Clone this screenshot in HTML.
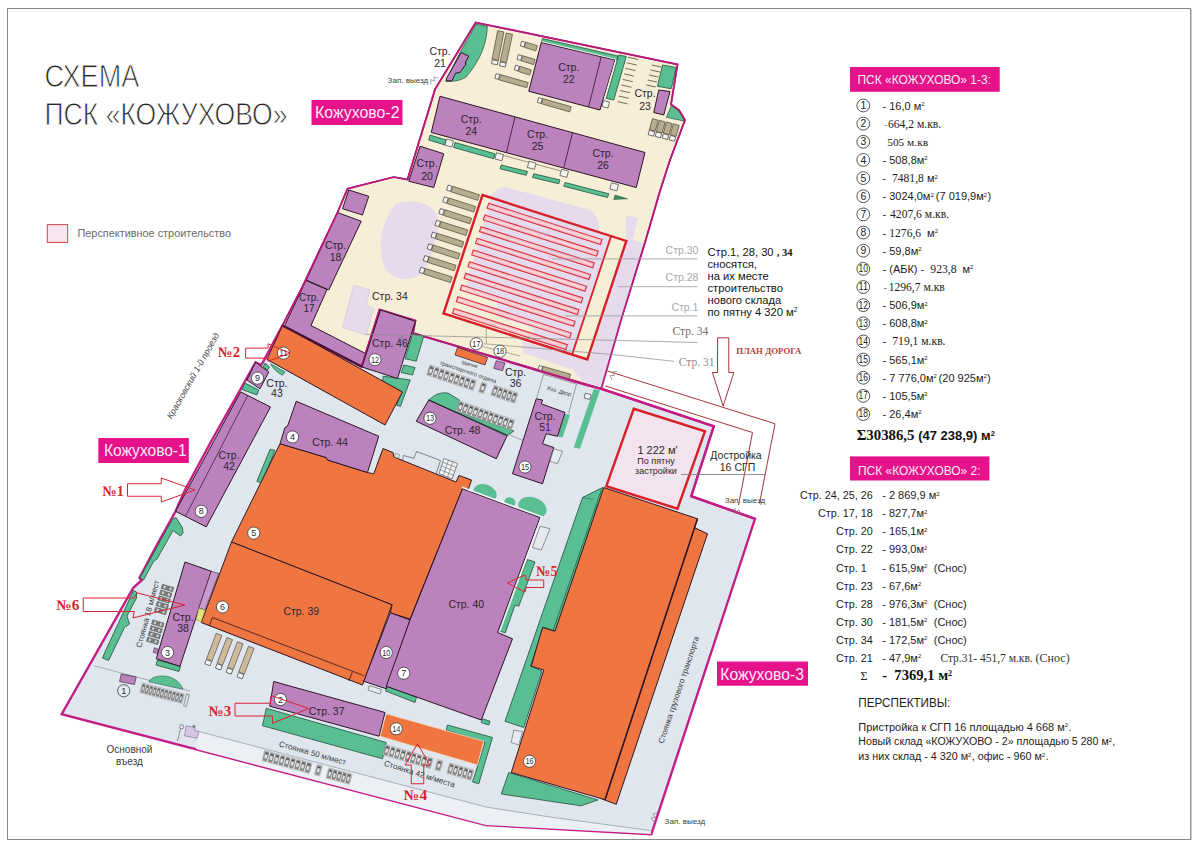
<!DOCTYPE html>
<html lang="ru"><head><meta charset="utf-8"><title>Схема ПСК «Кожухово»</title>
<style>
html,body{margin:0;padding:0;background:#fff;}
body{width:1200px;height:849px;overflow:hidden;font-family:"Liberation Sans",sans-serif;}
svg{display:block;}
</style></head><body>
<svg width="1200" height="849" viewBox="0 0 1200 849">
<rect x="0" y="0" width="1200" height="849" fill="#ffffff"/>
<rect x="7.5" y="8.5" width="1183" height="831" fill="none" stroke="#8a8a8a" stroke-width="1"/>
<line x1="1191.3" y1="9" x2="1191.3" y2="840" stroke="#bdbdbd" stroke-width="1"/>
<polygon points="282.50,325.40 361.50,366.50 379.50,309.50 415.50,320.70 413.00,333.00 582.50,383.75 601.25,388.75 713.75,426.25 691.25,496.25 755.00,518.75 716.25,637.00 651.30,834.30 486.00,825.00 61.70,714.20 133.00,588.20 134.50,586.50 141.50,580.50 139.50,577.80 156.25,546.00 175.60,511.25 185.00,490.00 211.90,440.00 238.40,393.00 255.60,362.30 261.00,365.00 262.50,363.00" fill="#dfe6ee" stroke="#c41d86" stroke-width="2.4" stroke-linejoin="miter"/>
<polygon points="198.75,731.50 486.00,807.00 550.00,817.00 650.00,830.50 651.30,834.00 486.00,825.00 196.00,749.00" fill="#eceff3" stroke="none" stroke-width="1" />
<polyline points="93.75,665.75 190.00,691.00" fill="none" stroke="#8d96a0" stroke-width="0.7" />
<polyline points="198.75,731.50 486.00,807.00 550.00,817.00 650.00,830.50" fill="none" stroke="#8d96a0" stroke-width="0.7" />
<polygon points="475.75,22.50 677.50,64.50 671.00,104.50 679.00,110.00 685.00,120.00 670.00,160.00 660.00,191.00 645.00,242.50 621.00,320.00 601.25,388.75 413.00,333.00 415.50,320.70 379.50,309.50 361.50,366.50 282.50,325.40 295.60,300.00 300.80,290.00 337.50,212.50 347.50,188.75 393.75,177.00 407.50,179.50 435.00,89.40" fill="#f6eed7" stroke="#b61a7a" stroke-width="1.7" stroke-linejoin="miter"/>
<path d="M476.3,24.2 L487.3,26.3 C487,42 481,60 466,77 C460,81 452,81.8 445.5,81.3 L460,52.5 Z" fill="#59bf92" stroke="#234f3d" stroke-width="0.7"/>
<polygon points="446.25,78.75 461.25,52.50 468.75,56.25 465.00,63.10 466.25,63.75 460.00,72.50 455.60,73.10 451.90,80.80 446.80,80.80" fill="#bb82bd" stroke="#2e1626" stroke-width="1.0" />
<polygon points="542.50,38.50 618.00,56.00 617.00,60.00 541.50,42.50" fill="#59bf92" stroke="#234f3d" stroke-width="0.8" />
<polygon points="618.75,55.00 626.25,56.50 613.75,100.00 606.25,98.50" fill="#59bf92" stroke="#234f3d" stroke-width="0.8" />
<polygon points="541.25,42.50 615.00,60.00 600.00,110.00 528.75,91.25" fill="#bb82bd" stroke="#2e1626" stroke-width="1.0" />
<line x1="601.20" y1="57.00" x2="588.50" y2="107.00" stroke="#2e1626" stroke-width="0.8"/>
<polyline points="541.50,41.60 615.90,59.30 604.30,99.00" fill="none" stroke="#f6f1e4" stroke-width="1.0" />
<polygon points="603.50,100.50 609.50,102.00 608.00,108.00 602.00,106.50" fill="#f4f4f0" stroke="#555" stroke-width="0.8" />
<line x1="628.10" y1="57.20" x2="638.10" y2="59.50" stroke="#6b5a44" stroke-width="0.9"/>
<line x1="626.77" y1="62.75" x2="636.77" y2="65.05" stroke="#6b5a44" stroke-width="0.9"/>
<line x1="625.44" y1="68.30" x2="635.44" y2="70.60" stroke="#6b5a44" stroke-width="0.9"/>
<line x1="624.11" y1="73.85" x2="634.11" y2="76.15" stroke="#6b5a44" stroke-width="0.9"/>
<line x1="622.78" y1="79.40" x2="632.78" y2="81.70" stroke="#6b5a44" stroke-width="0.9"/>
<line x1="621.45" y1="84.95" x2="631.45" y2="87.25" stroke="#6b5a44" stroke-width="0.9"/>
<line x1="620.12" y1="90.50" x2="630.12" y2="92.80" stroke="#6b5a44" stroke-width="0.9"/>
<line x1="618.79" y1="96.05" x2="628.79" y2="98.35" stroke="#6b5a44" stroke-width="0.9"/>
<line x1="617.46" y1="101.60" x2="627.46" y2="103.90" stroke="#6b5a44" stroke-width="0.9"/>
<line x1="651.90" y1="65.00" x2="661.30" y2="67.00" stroke="#6b5a44" stroke-width="0.9"/>
<line x1="650.50" y1="70.00" x2="659.90" y2="72.00" stroke="#6b5a44" stroke-width="0.9"/>
<line x1="649.10" y1="75.00" x2="658.50" y2="77.00" stroke="#6b5a44" stroke-width="0.9"/>
<line x1="647.70" y1="80.00" x2="657.10" y2="82.00" stroke="#6b5a44" stroke-width="0.9"/>
<line x1="646.30" y1="85.00" x2="655.70" y2="87.00" stroke="#6b5a44" stroke-width="0.9"/>
<polygon points="662.50,65.00 676.25,67.50 671.25,88.75 657.50,86.25" fill="#59bf92" stroke="#234f3d" stroke-width="0.8" />
<polygon points="658.75,90.00 670.00,91.50 663.75,115.00 653.75,112.50" fill="#bb82bd" stroke="#2e1626" stroke-width="1.0" />
<path d="M671.5,105.5 C677,109 682,114 684,121 L666.3,117.3 Z" fill="#59bf92" stroke="#234f3d" stroke-width="0.7"/>
<polygon points="648.15,134.64 649.41,130.22 654.72,131.74 653.45,136.16" fill="#f6f6f2" stroke="#4a4a4a" stroke-width="0.8" />
<polygon points="649.32,129.67 652.49,118.62 658.26,120.27 655.09,131.32" fill="#b7ab90" stroke="#5d5644" stroke-width="0.8" />
<polygon points="655.15,136.34 656.41,131.92 661.72,133.44 660.45,137.86" fill="#f6f6f2" stroke="#4a4a4a" stroke-width="0.8" />
<polygon points="656.32,131.37 659.49,120.32 665.26,121.97 662.09,133.02" fill="#b7ab90" stroke="#5d5644" stroke-width="0.8" />
<polygon points="662.15,138.04 663.41,133.62 668.72,135.14 667.45,139.56" fill="#f6f6f2" stroke="#4a4a4a" stroke-width="0.8" />
<polygon points="663.32,133.07 666.49,122.02 672.26,123.67 669.09,134.72" fill="#b7ab90" stroke="#5d5644" stroke-width="0.8" />
<polygon points="669.15,139.74 670.41,135.32 675.72,136.84 674.45,141.26" fill="#f6f6f2" stroke="#4a4a4a" stroke-width="0.8" />
<polygon points="670.32,134.77 673.49,123.72 679.26,125.37 676.09,136.42" fill="#b7ab90" stroke="#5d5644" stroke-width="0.8" />
<polygon points="491.51,63.64 492.27,59.71 498.05,60.84 497.29,64.76" fill="#f6f6f2" stroke="#4a4a4a" stroke-width="0.8" />
<polygon points="492.12,59.17 497.65,30.70 503.93,31.93 498.40,60.39" fill="#b7ab90" stroke="#5d5644" stroke-width="0.8" />
<polygon points="499.52,65.79 500.35,61.88 506.11,63.10 505.28,67.01" fill="#f6f6f2" stroke="#4a4a4a" stroke-width="0.8" />
<polygon points="500.21,61.33 506.23,32.97 512.50,34.30 506.47,62.66" fill="#b7ab90" stroke="#5d5644" stroke-width="0.8" />
<polygon points="521.73,41.12 525.36,42.24 523.91,46.99 520.27,45.88" fill="#f6f6f2" stroke="#4a4a4a" stroke-width="0.8" />
<polygon points="525.90,42.18 537.38,45.68 535.80,50.85 524.32,47.34" fill="#b7ab90" stroke="#5d5644" stroke-width="0.8" />
<polygon points="518.53,54.62 522.16,55.74 520.71,60.49 517.07,59.38" fill="#f6f6f2" stroke="#4a4a4a" stroke-width="0.8" />
<polygon points="522.70,55.68 535.13,59.48 533.55,64.64 521.12,60.84" fill="#b7ab90" stroke="#5d5644" stroke-width="0.8" />
<polygon points="515.77,65.14 519.38,66.31 517.85,71.04 514.23,69.86" fill="#f6f6f2" stroke="#4a4a4a" stroke-width="0.8" />
<polygon points="519.92,66.26 531.34,69.97 529.67,75.10 518.26,71.40" fill="#b7ab90" stroke="#5d5644" stroke-width="0.8" />
<polygon points="496.18,73.61 499.84,74.66 498.47,79.44 494.82,78.39" fill="#f6f6f2" stroke="#4a4a4a" stroke-width="0.8" />
<polygon points="500.38,74.59 528.25,82.58 526.77,87.77 498.89,79.78" fill="#b7ab90" stroke="#5d5644" stroke-width="0.8" />
<polygon points="538.68,97.61 542.34,98.66 540.97,103.44 537.32,102.39" fill="#f6f6f2" stroke="#4a4a4a" stroke-width="0.8" />
<polygon points="542.88,98.59 571.23,106.72 569.75,111.91 541.39,103.78" fill="#b7ab90" stroke="#5d5644" stroke-width="0.8" />
<polygon points="440.00,96.25 645.00,152.50 636.25,187.50 431.25,132.50" fill="#bb82bd" stroke="#2e1626" stroke-width="1.0" />
<line x1="515.00" y1="117.00" x2="506.30" y2="152.70" stroke="#2e1626" stroke-width="0.8"/>
<line x1="572.50" y1="132.70" x2="563.80" y2="167.80" stroke="#2e1626" stroke-width="0.8"/>
<line x1="496.00" y1="153.50" x2="563.00" y2="171.50" stroke="#5a5040" stroke-width="0.6"/>
<polygon points="430.00,135.00 446.00,140.00 445.00,145.00 428.75,140.00" fill="#59bf92" stroke="#234f3d" stroke-width="0.8" />
<polygon points="455.00,142.50 495.00,153.75 493.75,158.75 453.75,147.50" fill="#59bf92" stroke="#234f3d" stroke-width="0.8" />
<polygon points="501.25,165.00 527.50,171.50 526.25,175.30 500.00,168.80" fill="#59bf92" stroke="#234f3d" stroke-width="0.8" />
<polygon points="533.75,173.75 560.00,180.00 558.75,183.75 532.50,177.50" fill="#59bf92" stroke="#234f3d" stroke-width="0.8" />
<polygon points="565.00,182.50 608.75,193.75 607.50,197.50 563.75,186.25" fill="#59bf92" stroke="#234f3d" stroke-width="0.8" />
<polygon points="615.00,195.00 627.50,198.75 613.75,199.50" fill="#3c8f68" stroke="#234f3d" stroke-width="0.5" />
<polygon points="446.50,139.00 453.50,140.80 451.90,147.00 444.90,145.20" fill="#f4f4f0" stroke="#555" stroke-width="0.8" />
<polygon points="496.50,152.80 503.50,154.60 501.90,160.80 494.90,159.00" fill="#f4f4f0" stroke="#555" stroke-width="0.8" />
<polygon points="529.00,161.30 536.00,163.10 534.40,169.30 527.40,167.50" fill="#f4f4f0" stroke="#555" stroke-width="0.8" />
<polygon points="561.50,169.30 568.50,171.10 566.90,177.30 559.90,175.50" fill="#f4f4f0" stroke="#555" stroke-width="0.8" />
<polygon points="611.50,182.80 618.50,184.60 616.90,190.80 609.90,189.00" fill="#f4f4f0" stroke="#555" stroke-width="0.8" />
<polygon points="420.00,146.25 443.75,153.75 433.75,187.50 408.75,181.25" fill="#bb82bd" stroke="#2e1626" stroke-width="1.0" />
<polygon points="348.75,190.00 368.75,196.25 362.50,215.00 342.50,208.75" fill="#bb82bd" stroke="#2e1626" stroke-width="1.0" />
<polygon points="337.50,212.50 361.25,221.25 328.75,290.00 306.25,280.00" fill="#bb82bd" stroke="#2e1626" stroke-width="1.0" />
<polygon points="306.00,280.50 327.00,289.50 311.00,325.50 366.50,354.00 361.50,366.50 284.50,326.00" fill="#bb82bd" stroke="#2e1626" stroke-width="1.0" />
<path d="M396,204 C412,198 436,203 438,220 C438.5,238 430,262 422,273 C411,283 392,280 385,268 C377,253 380,222 396,204 Z" fill="#e5dbec"/>
<polygon points="353.75,285.00 370.00,290.00 366.25,305.00 373.75,308.75 366.25,335.00 342.50,327.50" fill="#e5dbec" stroke="#cfc3da" stroke-width="0.6" />
<path d="M488,197 L496.5,190.5 Q500.5,186 507,187.5 L586,208.8 Q596,212 598,221 L600,233 L611.1,236.1 L572.1,354.6 L443.5,313.5 L482.5,195 Z" fill="#e5dbec"/>
<polygon points="626.00,215.00 637.50,217.80 633.00,240.00 643.00,242.50 611.00,358.00 603.00,387.50 584.00,382.50 560.00,356.00 590.00,359.00 626.40,241.00" fill="#e5dbec" stroke="none" stroke-width="1" />
<polygon points="522.50,341.00 600.00,365.00 597.50,378.00 523.50,353.00" fill="#e5dbec" stroke="none" stroke-width="1" />
<polygon points="482.50,195.00 491.00,197.80 465.50,287.00 497.60,297.40 496.20,316.30 534.10,328.50 532.00,341.80 443.50,313.50" fill="#f6eed7" stroke="none" stroke-width="1" />
<polygon points="612.00,237.00 625.50,241.00 612.00,285.00 598.50,281.00" fill="#f6eed7" stroke="none" stroke-width="1" />
<polygon points="448.21,185.06 452.21,186.34 450.59,191.42 446.59,190.14" fill="#f6f6f2" stroke="#4a4a4a" stroke-width="0.8" />
<polygon points="452.76,186.27 479.43,194.78 477.67,200.30 451.00,191.79" fill="#b7ab90" stroke="#5d5644" stroke-width="0.8" />
<polygon points="444.31,196.81 448.31,198.09 446.69,203.17 442.69,201.89" fill="#f6f6f2" stroke="#4a4a4a" stroke-width="0.8" />
<polygon points="448.86,198.02 475.53,206.53 473.77,212.05 447.10,203.54" fill="#b7ab90" stroke="#5d5644" stroke-width="0.8" />
<polygon points="440.41,208.56 444.41,209.84 442.79,214.92 438.79,213.64" fill="#f6f6f2" stroke="#4a4a4a" stroke-width="0.8" />
<polygon points="444.96,209.77 471.63,218.28 469.87,223.80 443.20,215.29" fill="#b7ab90" stroke="#5d5644" stroke-width="0.8" />
<polygon points="436.51,220.31 440.51,221.59 438.89,226.67 434.89,225.39" fill="#f6f6f2" stroke="#4a4a4a" stroke-width="0.8" />
<polygon points="441.06,221.52 467.73,230.03 465.97,235.55 439.30,227.04" fill="#b7ab90" stroke="#5d5644" stroke-width="0.8" />
<polygon points="432.61,232.06 436.61,233.34 434.99,238.42 430.99,237.14" fill="#f6f6f2" stroke="#4a4a4a" stroke-width="0.8" />
<polygon points="437.16,233.27 463.83,241.78 462.07,247.30 435.40,238.79" fill="#b7ab90" stroke="#5d5644" stroke-width="0.8" />
<polygon points="428.71,243.81 432.71,245.09 431.09,250.17 427.09,248.89" fill="#f6f6f2" stroke="#4a4a4a" stroke-width="0.8" />
<polygon points="433.26,245.02 459.93,253.53 458.17,259.05 431.50,250.54" fill="#b7ab90" stroke="#5d5644" stroke-width="0.8" />
<polygon points="424.81,255.56 428.81,256.84 427.19,261.92 423.19,260.64" fill="#f6f6f2" stroke="#4a4a4a" stroke-width="0.8" />
<polygon points="429.36,256.77 456.03,265.28 454.27,270.80 427.60,262.29" fill="#b7ab90" stroke="#5d5644" stroke-width="0.8" />
<polygon points="420.91,267.31 424.91,268.59 423.29,273.67 419.29,272.39" fill="#f6f6f2" stroke="#4a4a4a" stroke-width="0.8" />
<polygon points="425.46,268.52 452.13,277.03 450.37,282.55 423.70,274.04" fill="#b7ab90" stroke="#5d5644" stroke-width="0.8" />
<polygon points="539.20,365.52 542.67,366.50 541.26,371.46 537.80,370.48" fill="#f6f6f2" stroke="#4a4a4a" stroke-width="0.8" />
<polygon points="543.21,366.42 570.63,374.18 569.11,379.57 541.68,371.81" fill="#b7ab90" stroke="#5d5644" stroke-width="0.8" />
<polygon points="488.72,203.29 602.07,239.52 600.44,244.46 487.10,208.23" fill="rgba(246,190,198,0.9)" stroke="#dc3342" stroke-width="1.1" />
<polyline points="489.34,206.21 599.83,241.54" fill="none" stroke="rgba(255,240,240,0.5)" stroke-width="1.4" />
<polygon points="484.88,214.97 598.22,251.21 596.60,256.15 483.25,219.91" fill="rgba(246,190,198,0.9)" stroke="#dc3342" stroke-width="1.1" />
<polyline points="485.49,217.90 595.98,253.22" fill="none" stroke="rgba(255,240,240,0.5)" stroke-width="1.4" />
<polygon points="481.03,226.66 594.38,262.89 592.75,267.83 479.41,231.59" fill="rgba(246,190,198,0.9)" stroke="#dc3342" stroke-width="1.1" />
<polyline points="481.65,229.58 592.14,264.90" fill="none" stroke="rgba(255,240,240,0.5)" stroke-width="1.4" />
<polygon points="477.19,238.34 590.53,274.57 588.91,279.51 475.56,243.28" fill="rgba(246,190,198,0.9)" stroke="#dc3342" stroke-width="1.1" />
<polyline points="477.80,241.27 588.29,276.59" fill="none" stroke="rgba(255,240,240,0.5)" stroke-width="1.4" />
<polygon points="473.34,250.02 586.69,286.26 585.06,291.20 471.72,254.96" fill="rgba(246,190,198,0.9)" stroke="#dc3342" stroke-width="1.1" />
<polyline points="473.96,252.95 584.45,288.27" fill="none" stroke="rgba(255,240,240,0.5)" stroke-width="1.4" />
<polygon points="469.50,261.71 582.84,297.94 581.22,302.88 467.87,266.65" fill="rgba(246,190,198,0.9)" stroke="#dc3342" stroke-width="1.1" />
<polyline points="470.11,264.63 580.60,299.95" fill="none" stroke="rgba(255,240,240,0.5)" stroke-width="1.4" />
<polygon points="465.65,273.39 579.00,309.63 577.37,314.57 464.03,278.33" fill="rgba(246,190,198,0.9)" stroke="#dc3342" stroke-width="1.1" />
<polyline points="466.27,276.32 576.76,311.64" fill="none" stroke="rgba(255,240,240,0.5)" stroke-width="1.4" />
<polygon points="461.81,285.07 575.15,321.31 573.53,326.25 460.18,290.01" fill="rgba(246,190,198,0.9)" stroke="#dc3342" stroke-width="1.1" />
<polyline points="462.42,288.00 572.91,323.32" fill="none" stroke="rgba(255,240,240,0.5)" stroke-width="1.4" />
<polygon points="457.96,296.76 571.31,332.99 569.68,337.93 456.34,301.70" fill="rgba(246,190,198,0.9)" stroke="#dc3342" stroke-width="1.1" />
<polyline points="458.58,299.68 569.07,335.01" fill="none" stroke="rgba(255,240,240,0.5)" stroke-width="1.4" />
<polygon points="454.12,308.44 567.46,344.68 565.84,349.62 452.49,313.38" fill="rgba(246,190,198,0.9)" stroke="#dc3342" stroke-width="1.1" />
<polyline points="454.73,311.37 565.22,346.69" fill="none" stroke="rgba(255,240,240,0.5)" stroke-width="1.4" />
<polygon points="482.50,195.00 626.33,240.98 587.33,359.48 443.50,313.50" fill="none" stroke="#d9202a" stroke-width="2.4" />
<polyline points="611.09,236.11 572.09,354.61" fill="none" stroke="#d9202a" stroke-width="1.8" />
<polygon points="475.75,22.50 677.50,64.50 671.00,104.50 679.00,110.00 685.00,120.00 670.00,160.00 660.00,191.00 645.00,242.50 621.00,320.00 601.25,388.75 413.00,333.00 415.50,320.70 379.50,309.50 361.50,366.50 282.50,325.40 295.60,300.00 300.80,290.00 337.50,212.50 347.50,188.75 393.75,177.00 407.50,179.50 435.00,89.40" fill="none" stroke="#b61a7a" stroke-width="1.7" stroke-linejoin="miter"/>
<polygon points="412.50,333.75 423.75,336.25 416.25,361.25 405.00,358.75" fill="#59bf92" stroke="#234f3d" stroke-width="0.8" />
<polygon points="403.75,365.00 415.00,367.50 412.50,375.00 401.25,372.50" fill="#59bf92" stroke="#234f3d" stroke-width="0.8" />
<polygon points="383.20,376.20 410.20,380.00 400.40,406.40 396.50,405.20 402.00,392.00 382.50,381.00" fill="#59bf92" stroke="#234f3d" stroke-width="0.8" />
<polygon points="245.00,383.10 258.75,390.00 256.90,395.00 241.90,389.40" fill="#59bf92" stroke="#234f3d" stroke-width="0.8" />
<polygon points="265.00,363.10 269.40,366.90 267.50,370.00 263.10,366.90" fill="#59bf92" stroke="#234f3d" stroke-width="0.8" />
<path d="M270.6,363.75 L285,371.9 L282.5,375.2 Q274,371 270.6,363.75 Z" fill="#59bf92" stroke="#234f3d" stroke-width="0.6"/>
<polygon points="270.00,449.40 275.00,450.20 261.90,483.30 256.90,481.25" fill="#59bf92" stroke="#234f3d" stroke-width="0.8" />
<polygon points="172.50,519.00 176.00,517.50 182.50,528.00 183.00,533.00 180.50,536.00 173.00,530.50 157.00,559.00 153.50,561.50 143.50,580.00 139.80,578.00" fill="#59bf92" stroke="#234f3d" stroke-width="0.8" />
<polygon points="133.50,590.50 136.50,592.00 136.50,598.00 127.00,616.00 129.50,624.00 124.50,627.50 111.00,655.50 108.50,660.50 102.50,658.00 105.00,652.00" fill="#59bf92" stroke="#234f3d" stroke-width="0.8" />
<polygon points="157.50,660.00 180.50,666.50 179.00,671.50 156.00,665.00" fill="#59bf92" stroke="#234f3d" stroke-width="0.8" />
<polygon points="266.25,708.25 386.25,742.50 382.50,758.75 262.50,725.75" fill="#59bf92" stroke="#234f3d" stroke-width="0.8" />
<polygon points="447.50,725.00 492.50,737.50 478.75,783.75 472.50,782.00 485.00,742.50 446.25,730.00" fill="#59bf92" stroke="#234f3d" stroke-width="0.8" />
<polygon points="387.50,686.25 416.50,697.30 415.00,702.50 385.50,691.00" fill="#59bf92" stroke="#234f3d" stroke-width="0.8" />
<polygon points="482.50,718.75 490.00,721.25 488.80,725.00 481.30,722.50" fill="#59bf92" stroke="#234f3d" stroke-width="0.8" />
<polygon points="527.50,559.50 535.00,562.00 518.75,606.25 515.00,605.00 505.30,632.80 498.50,630.80" fill="#59bf92" stroke="#234f3d" stroke-width="0.8" />
<ellipse cx="485" cy="493" rx="12" ry="8.5" transform="rotate(20 485 493)" fill="#59bf92"/>
<ellipse cx="510" cy="502" rx="5.5" ry="4.6" transform="rotate(20 510 502)" fill="#59bf92"/>
<ellipse cx="532.5" cy="507.5" rx="14.5" ry="10" transform="rotate(20 532.5 507.5)" fill="#59bf92"/>
<polygon points="565.00,413.75 570.00,415.00 562.50,437.50 557.50,436.25" fill="#59bf92" stroke="none" stroke-width="1" />
<polygon points="593.75,388.90 600.00,390.20 580.00,448.75 573.75,447.50" fill="#59bf92" stroke="none" stroke-width="1" />
<path d="M148.7,681.8 C151.5,676.6 159,675.3 166,676.2 C174,677.3 181,683 183,689.3 Z" fill="#59bf92" stroke="#234f3d" stroke-width="0.5"/>
<polygon points="282.50,325.60 402.50,392.00 385.00,425.00 266.90,359.40" fill="#ef7640" stroke="#2e1626" stroke-width="1.0" />
<line x1="282.50" y1="325.60" x2="361.50" y2="366.50" stroke="#4a1238" stroke-width="2.2"/>
<polygon points="280.00,443.75 326.25,457.50 327.50,460.00 367.50,472.50 373.75,473.90 383.00,448.50 393.00,452.50 394.00,457.00 456.00,482.00 459.00,475.50 471.50,480.00 468.30,489.50 462.50,488.75 410.00,619.00 390.30,612.80 392.00,604.75 231.50,542.00" fill="#ef7640" stroke="#2e1626" stroke-width="1.0" />
<polygon points="231.50,542.00 392.00,604.75 362.50,685.00 201.25,622.50" fill="#ef7640" stroke="#2e1626" stroke-width="1.0" />
<polyline points="209.30,626.00 212.50,617.50 352.50,671.25 349.00,681.00" fill="none" stroke="#2e1626" stroke-width="0.8" />
<polyline points="352.50,671.25 363.80,675.60" fill="none" stroke="#2e1626" stroke-width="0.8" />
<polygon points="386.25,713.75 483.75,741.25 477.50,765.00 380.00,736.25" fill="#ef7640" stroke="#f4d9c4" stroke-width="0.8" />
<polygon points="457.50,347.50 487.50,357.50 485.00,365.00 455.00,355.00" fill="#ef7640" stroke="#2e1626" stroke-width="0.7" />
<polygon points="380.50,310.00 415.30,321.20 397.50,378.50 362.00,367.00" fill="#bb82bd" stroke="#2e1626" stroke-width="1.0" />
<polygon points="255.60,362.25 268.75,371.90 260.00,388.75 246.90,380.00" fill="#bb82bd" stroke="#2e1626" stroke-width="1.0" />
<polygon points="240.70,391.90 270.50,407.00 206.25,526.90 175.60,511.25" fill="#bb82bd" stroke="#2e1626" stroke-width="1.0" />
<line x1="247.80" y1="395.40" x2="185.60" y2="515.80" stroke="#2e1626" stroke-width="0.7"/>
<polygon points="296.25,401.25 378.75,436.25 367.50,472.50 327.50,460.00 326.25,457.50 280.00,443.75 285.00,427.50 287.50,426.25" fill="#bb82bd" stroke="#2e1626" stroke-width="1.0" />
<polygon points="185.00,562.00 211.25,571.25 180.00,666.25 156.25,658.75" fill="#bb82bd" stroke="#2e1626" stroke-width="1.0" />
<polygon points="211.25,571.25 218.75,573.50 205.00,610.00 198.75,608.00" fill="#c99bcc" stroke="#2e1626" stroke-width="0.6" />
<polygon points="198.75,608.50 205.00,610.00 201.25,621.50 196.25,620.00" fill="#e6e47c" stroke="#8a8a30" stroke-width="0.5" />
<polygon points="154.30,647.70 158.20,649.00 157.20,653.60 153.30,652.40" fill="#bb82bd" stroke="#2e1626" stroke-width="0.5" />
<polygon points="390.30,612.80 410.00,620.00 386.25,688.75 363.75,681.25" fill="#bb82bd" stroke="#2e1626" stroke-width="1.0" />
<polygon points="462.50,488.75 540.00,517.50 497.50,632.50 512.50,638.75 481.25,720.00 386.25,686.25 410.00,620.00" fill="#bb82bd" stroke="#2e1626" stroke-width="1.0" />
<polyline points="462.00,487.30 541.80,516.80 499.50,631.50" fill="none" stroke="#f3f4f6" stroke-width="1.6" />
<polygon points="273.75,681.50 385.00,712.50 379.00,736.20 269.70,706.20" fill="#bb82bd" stroke="#2e1626" stroke-width="1.0" />
<polygon points="428.75,400.00 507.50,435.00 496.25,458.75 416.25,421.25" fill="#bb82bd" stroke="#2e1626" stroke-width="1.0" />
<path d="M428.75,400 Q438,391 448,393 L459.5,400 L457.5,411.5 L514,431 L508.5,434.8 L507,436.3 Z" fill="#59bf92" stroke="#234f3d" stroke-width="0.7"/>
<line x1="428.75" y1="400.00" x2="507.30" y2="435.30" stroke="#2e1626" stroke-width="1.0"/>
<polygon points="536.25,398.75 542.50,400.00 541.25,403.75 565.00,412.50 557.50,436.25 546.25,433.75 542.50,443.75 553.75,447.50 542.50,483.75 512.50,473.75" fill="#bb82bd" stroke="#2e1626" stroke-width="1.0" />
<polygon points="496.25,360.75 505.00,363.00 502.50,370.75 493.75,368.25" fill="#bb82bd" stroke="#2e1626" stroke-width="0.6" />
<polygon points="121.25,674.00 136.25,677.00 134.50,684.50 119.50,681.50" fill="#bb82bd" stroke="#2e1626" stroke-width="0.6" />
<polygon points="186.25,725.75 195.00,727.50 194.60,730.70 198.75,731.50 197.00,738.25 184.50,735.75" fill="#d8c6e6" stroke="#7d6a90" stroke-width="0.6" />
<polygon points="180.30,724.70 183.70,725.40 183.00,728.80 179.60,728.10" fill="#f4f4f4" stroke="#555" stroke-width="0.6" />
<line x1="180.60" y1="728.40" x2="177.50" y2="741.00" stroke="#555" stroke-width="0.6"/>
<polygon points="193.20,725.30 195.20,725.70 194.90,727.30 192.90,726.90" fill="#888" stroke="#555" stroke-width="0.4" />
<polygon points="540.00,526.25 550.00,528.75 541.25,550.00 532.50,547.50" fill="#e6ebf1" stroke="#6a6a6a" stroke-width="0.7" />
<polygon points="553.75,448.75 562.50,451.25 557.50,463.75 550.00,461.25" fill="#e6ebf1" stroke="#6a6a6a" stroke-width="0.7" />
<polygon points="513.75,730.00 522.50,731.60 518.75,745.00 511.25,742.50" fill="#e6ebf1" stroke="#6a6a6a" stroke-width="0.7" />
<polygon points="585.30,393.20 591.00,394.60 589.80,399.40 584.10,398.00" fill="#f2f4f7" stroke="#444" stroke-width="0.7" />
<polygon points="369.50,685.50 381.50,689.50 380.00,694.00 368.00,690.00" fill="#e6ebf1" stroke="#6a6a6a" stroke-width="0.7" />
<polygon points="395.50,453.50 399.50,454.80 398.50,458.30 394.60,457.00" fill="#e3ebe6" stroke="#6a6a6a" stroke-width="0.6" />
<polyline points="402.50,460.30 403.50,455.50 414.00,458.30 416.50,451.50 440.50,460.50 436.00,474.00" fill="none" stroke="#5a5a5a" stroke-width="0.7" />
<polygon points="444.00,458.50 457.50,463.50 452.00,479.00 439.00,473.50" fill="#f0f2f4" stroke="#555" stroke-width="0.7" />
<line x1="442.75" y1="462.25" x2="456.12" y2="467.38" stroke="#666" stroke-width="0.6"/>
<line x1="441.50" y1="466.00" x2="454.75" y2="471.25" stroke="#666" stroke-width="0.6"/>
<line x1="440.25" y1="469.75" x2="453.38" y2="475.12" stroke="#666" stroke-width="0.6"/>
<line x1="448.45" y1="460.15" x2="443.29" y2="475.31" stroke="#666" stroke-width="0.6"/>
<line x1="452.91" y1="461.80" x2="447.58" y2="477.13" stroke="#666" stroke-width="0.6"/>
<polyline points="543.75,373.50 536.50,398.50" fill="none" stroke="#6a6a6a" stroke-width="0.6" />
<polyline points="544.00,374.50 576.50,384.00 568.50,413.50" fill="none" stroke="#6a6a6a" stroke-width="0.6" />
<line x1="507.50" y1="434.00" x2="523.00" y2="440.50" stroke="#777" stroke-width="0.6"/>
<polygon points="204.82,663.81 206.47,659.52 211.63,661.49 209.98,665.79" fill="#f6f6f2" stroke="#4a4a4a" stroke-width="0.8" />
<polygon points="206.43,658.96 216.28,633.29 221.88,635.44 212.03,661.11" fill="#cfb997" stroke="#5a5f62" stroke-width="0.8" />
<polygon points="215.42,668.01 217.07,663.72 222.23,665.69 220.58,669.99" fill="#f6f6f2" stroke="#4a4a4a" stroke-width="0.8" />
<polygon points="217.03,663.16 226.88,637.49 232.48,639.64 222.63,665.31" fill="#cfb997" stroke="#5a5f62" stroke-width="0.8" />
<polygon points="226.02,672.21 227.67,667.92 232.83,669.89 231.18,674.19" fill="#f6f6f2" stroke="#4a4a4a" stroke-width="0.8" />
<polygon points="227.63,667.36 237.48,641.69 243.08,643.84 233.23,669.51" fill="#cfb997" stroke="#5a5f62" stroke-width="0.8" />
<polygon points="237.02,676.81 238.67,672.52 243.83,674.49 242.18,678.79" fill="#f6f6f2" stroke="#4a4a4a" stroke-width="0.8" />
<polygon points="238.63,671.96 248.48,646.29 254.08,648.44 244.23,674.11" fill="#cfb997" stroke="#5a5f62" stroke-width="0.8" />
<polygon points="142.39,682.98 184.31,693.83 181.81,703.51 139.89,692.67" fill="#f1f3f5" stroke="#8a8a8a" stroke-width="0.5" />
<polygon points="142.94,684.06 145.46,684.71 144.62,688.73 143.38,692.74 140.86,692.09 141.72,687.98" fill="#8c8c8c" stroke="#505050" stroke-width="0.35" />
<polygon points="142.99,686.65 144.15,686.95 143.24,690.50 142.07,690.20" fill="#e4e4e4" stroke="none" stroke-width="1" />
<polygon points="143.29,685.08 144.65,685.43 144.27,686.50 143.11,686.20" fill="#4a4a4a" stroke="none" stroke-width="1" />
<polygon points="146.72,685.03 149.23,685.68 148.40,689.70 147.16,693.72 144.64,693.07 145.50,688.95" fill="#8c8c8c" stroke="#505050" stroke-width="0.35" />
<polygon points="146.77,687.63 147.93,687.93 147.01,691.48 145.85,691.18" fill="#e4e4e4" stroke="none" stroke-width="1" />
<polygon points="147.07,686.06 148.43,686.41 148.05,687.48 146.88,687.18" fill="#4a4a4a" stroke="none" stroke-width="1" />
<polygon points="150.49,686.01 153.01,686.66 152.18,690.68 150.93,694.70 148.41,694.04 149.27,689.93" fill="#8c8c8c" stroke="#505050" stroke-width="0.35" />
<polygon points="150.54,688.61 151.70,688.91 150.79,692.46 149.63,692.16" fill="#e4e4e4" stroke="none" stroke-width="1" />
<polygon points="150.85,687.03 152.20,687.38 151.82,688.45 150.66,688.15" fill="#4a4a4a" stroke="none" stroke-width="1" />
<polygon points="154.27,686.99 156.78,687.64 155.95,691.66 154.71,695.67 152.19,695.02 153.05,690.90" fill="#8c8c8c" stroke="#505050" stroke-width="0.35" />
<polygon points="154.32,689.58 155.48,689.88 154.56,693.43 153.40,693.13" fill="#e4e4e4" stroke="none" stroke-width="1" />
<polygon points="154.62,688.01 155.98,688.36 155.60,689.43 154.44,689.13" fill="#4a4a4a" stroke="none" stroke-width="1" />
<polygon points="158.04,687.96 160.56,688.61 159.73,692.63 158.48,696.65 155.97,696.00 156.82,691.88" fill="#8c8c8c" stroke="#505050" stroke-width="0.35" />
<polygon points="158.09,690.56 159.26,690.86 158.34,694.41 157.18,694.11" fill="#e4e4e4" stroke="none" stroke-width="1" />
<polygon points="158.40,688.99 159.75,689.34 159.37,690.40 158.21,690.10" fill="#4a4a4a" stroke="none" stroke-width="1" />
<polygon points="161.82,688.94 164.34,689.59 163.50,693.61 162.26,697.63 159.74,696.97 160.60,692.86" fill="#8c8c8c" stroke="#505050" stroke-width="0.35" />
<polygon points="161.87,691.54 163.03,691.84 162.11,695.39 160.95,695.09" fill="#e4e4e4" stroke="none" stroke-width="1" />
<polygon points="162.17,689.96 163.53,690.31 163.15,691.38 161.99,691.08" fill="#4a4a4a" stroke="none" stroke-width="1" />
<polygon points="165.59,689.91 168.11,690.57 167.28,694.59 166.03,698.60 163.52,697.95 164.37,693.83" fill="#8c8c8c" stroke="#505050" stroke-width="0.35" />
<polygon points="165.65,692.51 166.81,692.81 165.89,696.36 164.73,696.06" fill="#e4e4e4" stroke="none" stroke-width="1" />
<polygon points="165.95,690.94 167.30,691.29 166.93,692.36 165.76,692.06" fill="#4a4a4a" stroke="none" stroke-width="1" />
<polygon points="169.37,690.89 171.89,691.54 171.05,695.56 169.81,699.58 167.29,698.93 168.15,694.81" fill="#8c8c8c" stroke="#505050" stroke-width="0.35" />
<polygon points="169.42,693.49 170.58,693.79 169.67,697.34 168.50,697.04" fill="#e4e4e4" stroke="none" stroke-width="1" />
<polygon points="169.73,691.92 171.08,692.27 170.70,693.33 169.54,693.03" fill="#4a4a4a" stroke="none" stroke-width="1" />
<polygon points="173.15,691.87 175.66,692.52 174.83,696.54 173.59,700.55 171.07,699.90 171.93,695.79" fill="#8c8c8c" stroke="#505050" stroke-width="0.35" />
<polygon points="173.20,694.47 174.36,694.77 173.44,698.32 172.28,698.01" fill="#e4e4e4" stroke="none" stroke-width="1" />
<polygon points="173.50,692.89 174.86,693.24 174.48,694.31 173.32,694.01" fill="#4a4a4a" stroke="none" stroke-width="1" />
<polygon points="176.92,692.84 179.44,693.50 178.61,697.51 177.36,701.53 174.84,700.88 175.70,696.76" fill="#8c8c8c" stroke="#505050" stroke-width="0.35" />
<polygon points="176.97,695.44 178.14,695.74 177.22,699.29 176.06,698.99" fill="#e4e4e4" stroke="none" stroke-width="1" />
<polygon points="177.28,693.87 178.63,694.22 178.25,695.29 177.09,694.99" fill="#4a4a4a" stroke="none" stroke-width="1" />
<polygon points="180.70,693.82 183.22,694.47 182.38,698.49 181.14,702.51 178.62,701.86 179.48,697.74" fill="#8c8c8c" stroke="#505050" stroke-width="0.35" />
<polygon points="180.75,696.42 181.91,696.72 180.99,700.27 179.83,699.97" fill="#e4e4e4" stroke="none" stroke-width="1" />
<polygon points="181.05,694.85 182.41,695.20 182.03,696.26 180.87,695.96" fill="#4a4a4a" stroke="none" stroke-width="1" />
<polygon points="186.50,694.00 189.30,694.70 186.40,706.50 183.60,705.80" fill="none" stroke="#555" stroke-width="0.6" />
<polygon points="429.92,364.86 476.36,380.49 472.98,390.53 426.54,374.90" fill="#f1f3f5" stroke="#8a8a8a" stroke-width="0.5" />
<polygon points="430.39,365.96 433.90,367.14 432.69,371.38 431.06,375.58 427.55,374.40 428.80,370.07" fill="#8c8c8c" stroke="#505050" stroke-width="0.35" />
<polygon points="430.20,368.75 432.38,369.48 431.13,373.18 428.95,372.44" fill="#e4e4e4" stroke="none" stroke-width="1" />
<polygon points="430.64,367.10 433.01,367.90 432.53,369.01 430.35,368.27" fill="#4a4a4a" stroke="none" stroke-width="1" />
<polygon points="435.56,367.70 439.07,368.88 437.85,373.12 436.23,377.32 432.72,376.14 433.97,371.81" fill="#8c8c8c" stroke="#505050" stroke-width="0.35" />
<polygon points="435.36,370.48 437.54,371.22 436.30,374.91 434.12,374.18" fill="#e4e4e4" stroke="none" stroke-width="1" />
<polygon points="435.81,368.84 438.18,369.64 437.70,370.74 435.52,370.01" fill="#4a4a4a" stroke="none" stroke-width="1" />
<polygon points="440.72,369.44 444.23,370.62 443.02,374.86 441.39,379.06 437.88,377.88 439.13,373.55" fill="#8c8c8c" stroke="#505050" stroke-width="0.35" />
<polygon points="440.53,372.22 442.71,372.96 441.46,376.65 439.28,375.92" fill="#e4e4e4" stroke="none" stroke-width="1" />
<polygon points="440.97,370.58 443.34,371.38 442.87,372.48 440.69,371.75" fill="#4a4a4a" stroke="none" stroke-width="1" />
<polygon points="445.89,371.18 449.40,372.36 448.18,376.59 446.56,380.79 443.05,379.61 444.30,375.29" fill="#8c8c8c" stroke="#505050" stroke-width="0.35" />
<polygon points="445.69,373.96 447.87,374.70 446.63,378.39 444.45,377.66" fill="#e4e4e4" stroke="none" stroke-width="1" />
<polygon points="446.14,372.32 448.51,373.12 448.03,374.22 445.85,373.49" fill="#4a4a4a" stroke="none" stroke-width="1" />
<polygon points="451.05,372.92 454.56,374.10 453.35,378.33 451.72,382.53 448.22,381.35 449.46,377.02" fill="#8c8c8c" stroke="#505050" stroke-width="0.35" />
<polygon points="450.86,375.70 453.04,376.43 451.79,380.13 449.61,379.40" fill="#e4e4e4" stroke="none" stroke-width="1" />
<polygon points="451.30,374.06 453.67,374.85 453.20,375.96 451.02,375.23" fill="#4a4a4a" stroke="none" stroke-width="1" />
<polygon points="456.22,374.66 459.73,375.84 458.51,380.07 456.89,384.27 453.38,383.09 454.63,378.76" fill="#8c8c8c" stroke="#505050" stroke-width="0.35" />
<polygon points="456.02,377.44 458.20,378.17 456.96,381.87 454.78,381.13" fill="#e4e4e4" stroke="none" stroke-width="1" />
<polygon points="456.47,375.80 458.84,376.59 458.36,377.70 456.18,376.96" fill="#4a4a4a" stroke="none" stroke-width="1" />
<polygon points="461.38,376.39 464.89,377.57 463.68,381.81 462.05,386.01 458.55,384.83 459.79,380.50" fill="#8c8c8c" stroke="#505050" stroke-width="0.35" />
<polygon points="461.19,379.18 463.37,379.91 462.12,383.61 459.94,382.87" fill="#e4e4e4" stroke="none" stroke-width="1" />
<polygon points="461.63,377.53 464.00,378.33 463.53,379.44 461.35,378.70" fill="#4a4a4a" stroke="none" stroke-width="1" />
<polygon points="466.55,378.13 470.06,379.31 468.84,383.55 467.22,387.75 463.71,386.57 464.96,382.24" fill="#8c8c8c" stroke="#505050" stroke-width="0.35" />
<polygon points="466.35,380.91 468.53,381.65 467.29,385.34 465.11,384.61" fill="#e4e4e4" stroke="none" stroke-width="1" />
<polygon points="466.80,379.27 469.17,380.07 468.69,381.17 466.51,380.44" fill="#4a4a4a" stroke="none" stroke-width="1" />
<polygon points="471.72,379.87 475.22,381.05 474.01,385.29 472.38,389.49 468.88,388.31 470.12,383.98" fill="#8c8c8c" stroke="#505050" stroke-width="0.35" />
<polygon points="471.52,382.65 473.70,383.39 472.45,387.08 470.27,386.35" fill="#e4e4e4" stroke="none" stroke-width="1" />
<polygon points="471.97,381.01 474.33,381.81 473.86,382.91 471.68,382.18" fill="#4a4a4a" stroke="none" stroke-width="1" />
<polygon points="481.92,381.86 487.04,383.58 483.66,393.62 478.54,391.90" fill="#f1f3f5" stroke="#8a8a8a" stroke-width="0.5" />
<polygon points="482.39,382.96 485.90,384.14 484.69,388.38 483.06,392.58 479.55,391.40 480.80,387.07" fill="#8c8c8c" stroke="#505050" stroke-width="0.35" />
<polygon points="482.20,385.75 484.38,386.48 483.13,390.18 480.95,389.44" fill="#e4e4e4" stroke="none" stroke-width="1" />
<polygon points="482.64,384.10 485.01,384.90 484.53,386.01 482.35,385.27" fill="#4a4a4a" stroke="none" stroke-width="1" />
<polygon points="494.22,385.16 518.01,393.16 514.63,403.21 490.84,395.20" fill="#f1f3f5" stroke="#8a8a8a" stroke-width="0.5" />
<polygon points="494.69,386.26 497.92,387.35 496.70,391.58 495.08,395.78 491.85,394.70 493.10,390.37" fill="#8c8c8c" stroke="#505050" stroke-width="0.35" />
<polygon points="494.50,389.05 496.39,389.68 495.15,393.38 493.25,392.74" fill="#e4e4e4" stroke="none" stroke-width="1" />
<polygon points="494.94,387.40 497.03,388.11 496.55,389.21 494.65,388.57" fill="#4a4a4a" stroke="none" stroke-width="1" />
<polygon points="499.43,387.86 502.65,388.94 501.44,393.18 499.82,397.38 496.59,396.29 497.84,391.97" fill="#8c8c8c" stroke="#505050" stroke-width="0.35" />
<polygon points="499.23,390.64 501.13,391.28 499.89,394.98 497.99,394.34" fill="#e4e4e4" stroke="none" stroke-width="1" />
<polygon points="499.68,389.00 501.77,389.70 501.29,390.81 499.39,390.17" fill="#4a4a4a" stroke="none" stroke-width="1" />
<polygon points="504.17,389.45 507.39,390.54 506.18,394.77 504.55,398.97 501.33,397.89 502.58,393.56" fill="#8c8c8c" stroke="#505050" stroke-width="0.35" />
<polygon points="503.97,392.24 505.87,392.87 504.62,396.57 502.73,395.93" fill="#e4e4e4" stroke="none" stroke-width="1" />
<polygon points="504.42,390.59 506.51,391.29 506.03,392.40 504.13,391.76" fill="#4a4a4a" stroke="none" stroke-width="1" />
<polygon points="508.91,391.05 512.13,392.13 510.92,396.37 509.29,400.57 506.07,399.48 507.32,395.16" fill="#8c8c8c" stroke="#505050" stroke-width="0.35" />
<polygon points="508.71,393.83 510.61,394.47 509.36,398.17 507.47,397.53" fill="#e4e4e4" stroke="none" stroke-width="1" />
<polygon points="509.16,392.19 511.24,392.89 510.77,394.00 508.87,393.36" fill="#4a4a4a" stroke="none" stroke-width="1" />
<polygon points="513.65,392.64 516.87,393.73 515.66,397.96 514.03,402.16 510.81,401.08 512.06,396.75" fill="#8c8c8c" stroke="#505050" stroke-width="0.35" />
<polygon points="513.45,395.43 515.35,396.06 514.10,399.76 512.21,399.12" fill="#e4e4e4" stroke="none" stroke-width="1" />
<polygon points="513.90,393.78 515.98,394.48 515.51,395.59 513.61,394.95" fill="#4a4a4a" stroke="none" stroke-width="1" />
<polygon points="459.63,400.85 514.75,420.15 511.24,430.16 456.12,410.86" fill="#f1f3f5" stroke="#8a8a8a" stroke-width="0.5" />
<polygon points="460.08,401.97 463.58,403.19 462.31,407.41 460.64,411.59 457.14,410.37 458.44,406.05" fill="#8c8c8c" stroke="#505050" stroke-width="0.35" />
<polygon points="459.85,404.75 462.02,405.51 460.73,409.19 458.56,408.43" fill="#e4e4e4" stroke="none" stroke-width="1" />
<polygon points="460.32,403.11 462.68,403.93 462.19,405.03 460.02,404.27" fill="#4a4a4a" stroke="none" stroke-width="1" />
<polygon points="465.09,403.72 468.58,404.94 467.31,409.16 465.64,413.34 462.15,412.12 463.44,407.80" fill="#8c8c8c" stroke="#505050" stroke-width="0.35" />
<polygon points="464.86,406.50 467.03,407.26 465.74,410.94 463.57,410.18" fill="#e4e4e4" stroke="none" stroke-width="1" />
<polygon points="465.32,404.86 467.68,405.69 467.19,406.79 465.02,406.02" fill="#4a4a4a" stroke="none" stroke-width="1" />
<polygon points="470.09,405.47 473.58,406.69 472.32,410.91 470.64,415.09 467.15,413.87 468.45,409.56" fill="#8c8c8c" stroke="#505050" stroke-width="0.35" />
<polygon points="469.86,408.25 472.03,409.01 470.74,412.69 468.57,411.93" fill="#e4e4e4" stroke="none" stroke-width="1" />
<polygon points="470.32,406.61 472.68,407.44 472.19,408.54 470.02,407.78" fill="#4a4a4a" stroke="none" stroke-width="1" />
<polygon points="475.09,407.22 478.58,408.44 477.32,412.66 475.64,416.84 472.15,415.62 473.45,411.31" fill="#8c8c8c" stroke="#505050" stroke-width="0.35" />
<polygon points="474.86,410.00 477.03,410.76 475.74,414.44 473.57,413.68" fill="#e4e4e4" stroke="none" stroke-width="1" />
<polygon points="475.33,408.36 477.69,409.19 477.20,410.29 475.02,409.53" fill="#4a4a4a" stroke="none" stroke-width="1" />
<polygon points="480.09,408.97 483.59,410.20 482.32,414.41 480.64,418.60 477.15,417.37 478.45,413.06" fill="#8c8c8c" stroke="#505050" stroke-width="0.35" />
<polygon points="479.86,411.75 482.03,412.51 480.74,416.19 478.57,415.43" fill="#e4e4e4" stroke="none" stroke-width="1" />
<polygon points="480.33,410.11 482.69,410.94 482.20,412.04 480.03,411.28" fill="#4a4a4a" stroke="none" stroke-width="1" />
<polygon points="485.10,410.72 488.59,411.95 487.32,416.17 485.65,420.35 482.15,419.12 483.45,414.81" fill="#8c8c8c" stroke="#505050" stroke-width="0.35" />
<polygon points="484.86,413.50 487.03,414.26 485.75,417.94 483.57,417.18" fill="#e4e4e4" stroke="none" stroke-width="1" />
<polygon points="485.33,411.87 487.69,412.69 487.20,413.79 485.03,413.03" fill="#4a4a4a" stroke="none" stroke-width="1" />
<polygon points="490.10,412.48 493.59,413.70 492.32,417.92 490.65,422.10 487.16,420.88 488.45,416.56" fill="#8c8c8c" stroke="#505050" stroke-width="0.35" />
<polygon points="489.87,415.26 492.04,416.02 490.75,419.70 488.58,418.94" fill="#e4e4e4" stroke="none" stroke-width="1" />
<polygon points="490.33,413.62 492.69,414.44 492.20,415.54 490.03,414.78" fill="#4a4a4a" stroke="none" stroke-width="1" />
<polygon points="495.10,414.23 498.59,415.45 497.33,419.67 495.65,423.85 492.16,422.63 493.46,418.31" fill="#8c8c8c" stroke="#505050" stroke-width="0.35" />
<polygon points="494.87,417.01 497.04,417.77 495.75,421.45 493.58,420.69" fill="#e4e4e4" stroke="none" stroke-width="1" />
<polygon points="495.34,415.37 497.70,416.20 497.20,417.30 495.03,416.54" fill="#4a4a4a" stroke="none" stroke-width="1" />
<polygon points="500.10,415.98 503.59,417.20 502.33,421.42 500.65,425.60 497.16,424.38 498.46,420.07" fill="#8c8c8c" stroke="#505050" stroke-width="0.35" />
<polygon points="499.87,418.76 502.04,419.52 500.75,423.20 498.58,422.44" fill="#e4e4e4" stroke="none" stroke-width="1" />
<polygon points="500.34,417.12 502.70,417.95 502.21,419.05 500.04,418.29" fill="#4a4a4a" stroke="none" stroke-width="1" />
<polygon points="505.10,417.73 508.60,418.95 507.33,423.17 505.65,427.35 502.16,426.13 503.46,421.82" fill="#8c8c8c" stroke="#505050" stroke-width="0.35" />
<polygon points="504.87,420.51 507.04,421.27 505.75,424.95 503.58,424.19" fill="#e4e4e4" stroke="none" stroke-width="1" />
<polygon points="505.34,418.87 507.70,419.70 507.21,420.80 505.04,420.04" fill="#4a4a4a" stroke="none" stroke-width="1" />
<polygon points="510.11,419.48 513.60,420.71 512.33,424.92 510.66,429.11 507.16,427.88 508.46,423.57" fill="#8c8c8c" stroke="#505050" stroke-width="0.35" />
<polygon points="509.87,422.26 512.05,423.02 510.76,426.70 508.59,425.94" fill="#e4e4e4" stroke="none" stroke-width="1" />
<polygon points="510.34,420.62 512.70,421.45 512.21,422.55 510.04,421.79" fill="#4a4a4a" stroke="none" stroke-width="1" />
<polygon points="264.79,750.48 312.13,763.16 309.38,773.40 262.05,760.72" fill="#f1f3f5" stroke="#8a8a8a" stroke-width="0.5" />
<polygon points="265.33,751.56 268.91,752.51 267.96,756.82 266.60,761.11 263.03,760.15 264.00,755.76" fill="#8c8c8c" stroke="#505050" stroke-width="0.35" />
<polygon points="265.31,754.35 267.53,754.94 266.52,758.71 264.30,758.11" fill="#e4e4e4" stroke="none" stroke-width="1" />
<polygon points="265.66,752.68 268.07,753.33 267.66,754.46 265.44,753.86" fill="#4a4a4a" stroke="none" stroke-width="1" />
<polygon points="270.60,752.97 274.17,753.93 273.23,758.23 271.87,762.52 268.30,761.56 269.27,757.17" fill="#8c8c8c" stroke="#505050" stroke-width="0.35" />
<polygon points="270.58,755.76 272.80,756.35 271.79,760.12 269.57,759.52" fill="#e4e4e4" stroke="none" stroke-width="1" />
<polygon points="270.92,754.09 273.33,754.74 272.93,755.87 270.71,755.27" fill="#4a4a4a" stroke="none" stroke-width="1" />
<polygon points="275.86,754.38 279.44,755.34 278.49,759.64 277.13,763.93 273.56,762.98 274.53,758.58" fill="#8c8c8c" stroke="#505050" stroke-width="0.35" />
<polygon points="275.84,757.17 278.06,757.76 277.05,761.53 274.83,760.93" fill="#e4e4e4" stroke="none" stroke-width="1" />
<polygon points="276.18,755.50 278.60,756.15 278.19,757.28 275.97,756.68" fill="#4a4a4a" stroke="none" stroke-width="1" />
<polygon points="281.13,755.79 284.70,756.75 283.76,761.05 282.40,765.34 278.82,764.39 279.80,759.99" fill="#8c8c8c" stroke="#505050" stroke-width="0.35" />
<polygon points="281.10,758.58 283.33,759.17 282.32,762.94 280.10,762.35" fill="#e4e4e4" stroke="none" stroke-width="1" />
<polygon points="281.45,756.91 283.86,757.56 283.46,758.69 281.23,758.10" fill="#4a4a4a" stroke="none" stroke-width="1" />
<polygon points="286.39,757.20 289.97,758.16 289.02,762.46 287.66,766.75 284.09,765.80 285.06,761.40" fill="#8c8c8c" stroke="#505050" stroke-width="0.35" />
<polygon points="286.37,759.99 288.59,760.58 287.58,764.35 285.36,763.76" fill="#e4e4e4" stroke="none" stroke-width="1" />
<polygon points="286.71,758.32 289.13,758.97 288.72,760.10 286.50,759.51" fill="#4a4a4a" stroke="none" stroke-width="1" />
<polygon points="291.66,758.61 295.23,759.57 294.28,763.87 292.93,768.16 289.35,767.21 290.32,762.81" fill="#8c8c8c" stroke="#505050" stroke-width="0.35" />
<polygon points="291.63,761.40 293.85,761.99 292.85,765.76 290.62,765.17" fill="#e4e4e4" stroke="none" stroke-width="1" />
<polygon points="291.98,759.73 294.39,760.38 293.98,761.51 291.76,760.92" fill="#4a4a4a" stroke="none" stroke-width="1" />
<polygon points="296.92,760.02 300.49,760.98 299.55,765.28 298.19,769.57 294.62,768.62 295.59,764.22" fill="#8c8c8c" stroke="#505050" stroke-width="0.35" />
<polygon points="296.90,762.81 299.12,763.41 298.11,767.17 295.89,766.58" fill="#e4e4e4" stroke="none" stroke-width="1" />
<polygon points="297.24,761.14 299.66,761.79 299.25,762.92 297.03,762.33" fill="#4a4a4a" stroke="none" stroke-width="1" />
<polygon points="302.18,761.43 305.76,762.39 304.81,766.69 303.45,770.99 299.88,770.03 300.85,765.63" fill="#8c8c8c" stroke="#505050" stroke-width="0.35" />
<polygon points="302.16,764.22 304.38,764.82 303.37,768.58 301.15,767.99" fill="#e4e4e4" stroke="none" stroke-width="1" />
<polygon points="302.51,762.55 304.92,763.20 304.51,764.33 302.29,763.74" fill="#4a4a4a" stroke="none" stroke-width="1" />
<polygon points="307.45,762.84 311.02,763.80 310.08,768.10 308.72,772.40 305.15,771.44 306.12,767.04" fill="#8c8c8c" stroke="#505050" stroke-width="0.35" />
<polygon points="307.43,765.63 309.65,766.23 308.64,769.99 306.42,769.40" fill="#e4e4e4" stroke="none" stroke-width="1" />
<polygon points="307.77,763.96 310.18,764.61 309.78,765.74 307.56,765.15" fill="#4a4a4a" stroke="none" stroke-width="1" />
<polygon points="317.19,764.38 322.41,765.78 319.67,776.02 314.45,774.62" fill="#f1f3f5" stroke="#8a8a8a" stroke-width="0.5" />
<polygon points="317.73,765.46 321.31,766.41 320.36,770.72 319.00,775.01 315.43,774.05 316.40,769.66" fill="#8c8c8c" stroke="#505050" stroke-width="0.35" />
<polygon points="317.71,768.25 319.93,768.84 318.92,772.61 316.70,772.01" fill="#e4e4e4" stroke="none" stroke-width="1" />
<polygon points="318.06,766.58 320.47,767.23 320.06,768.36 317.84,767.76" fill="#4a4a4a" stroke="none" stroke-width="1" />
<polygon points="328.79,767.78 352.17,774.04 349.43,784.28 326.05,778.02" fill="#f1f3f5" stroke="#8a8a8a" stroke-width="0.5" />
<polygon points="329.33,768.86 332.52,769.71 331.58,774.01 330.22,778.31 327.03,777.45 328.00,773.06" fill="#8c8c8c" stroke="#505050" stroke-width="0.35" />
<polygon points="329.31,771.65 331.15,772.14 330.14,775.91 328.30,775.41" fill="#e4e4e4" stroke="none" stroke-width="1" />
<polygon points="329.66,769.98 331.68,770.52 331.28,771.66 329.44,771.16" fill="#4a4a4a" stroke="none" stroke-width="1" />
<polygon points="333.97,770.10 337.16,770.95 336.21,775.26 334.85,779.55 331.67,778.70 332.64,774.30" fill="#8c8c8c" stroke="#505050" stroke-width="0.35" />
<polygon points="333.95,772.89 335.78,773.38 334.77,777.15 332.94,776.66" fill="#e4e4e4" stroke="none" stroke-width="1" />
<polygon points="334.29,771.22 336.32,771.76 335.91,772.90 334.08,772.41" fill="#4a4a4a" stroke="none" stroke-width="1" />
<polygon points="338.61,771.34 341.79,772.20 340.85,776.50 339.49,780.79 336.30,779.94 337.28,775.54" fill="#8c8c8c" stroke="#505050" stroke-width="0.35" />
<polygon points="338.58,774.13 340.42,774.62 339.41,778.39 337.58,777.90" fill="#e4e4e4" stroke="none" stroke-width="1" />
<polygon points="338.93,772.46 340.96,773.01 340.55,774.14 338.71,773.65" fill="#4a4a4a" stroke="none" stroke-width="1" />
<polygon points="343.24,772.58 346.43,773.44 345.49,777.74 344.13,782.04 340.94,781.18 341.91,776.78" fill="#8c8c8c" stroke="#505050" stroke-width="0.35" />
<polygon points="343.22,775.37 345.06,775.87 344.05,779.63 342.21,779.14" fill="#e4e4e4" stroke="none" stroke-width="1" />
<polygon points="343.56,773.71 345.59,774.25 345.19,775.38 343.35,774.89" fill="#4a4a4a" stroke="none" stroke-width="1" />
<polygon points="347.88,773.83 351.07,774.68 350.12,778.98 348.76,783.28 345.58,782.42 346.55,778.02" fill="#8c8c8c" stroke="#505050" stroke-width="0.35" />
<polygon points="347.86,776.62 349.69,777.11 348.68,780.87 346.85,780.38" fill="#e4e4e4" stroke="none" stroke-width="1" />
<polygon points="348.20,774.95 350.23,775.49 349.82,776.62 347.99,776.13" fill="#4a4a4a" stroke="none" stroke-width="1" />
<polygon points="385.80,744.57 433.22,758.44 430.24,768.61 382.83,754.75" fill="#f1f3f5" stroke="#8a8a8a" stroke-width="0.5" />
<polygon points="386.32,745.66 389.87,746.70 388.83,750.98 387.37,755.24 383.82,754.20 384.89,749.83" fill="#8c8c8c" stroke="#505050" stroke-width="0.35" />
<polygon points="386.23,748.45 388.44,749.09 387.35,752.84 385.14,752.19" fill="#e4e4e4" stroke="none" stroke-width="1" />
<polygon points="386.61,746.79 389.01,747.49 388.58,748.61 386.37,747.97" fill="#4a4a4a" stroke="none" stroke-width="1" />
<polygon points="391.60,747.20 395.15,748.24 394.11,752.52 392.65,756.78 389.10,755.75 390.17,751.37" fill="#8c8c8c" stroke="#505050" stroke-width="0.35" />
<polygon points="391.51,749.99 393.72,750.64 392.63,754.38 390.42,753.73" fill="#e4e4e4" stroke="none" stroke-width="1" />
<polygon points="391.89,748.33 394.29,749.03 393.86,750.16 391.65,749.51" fill="#4a4a4a" stroke="none" stroke-width="1" />
<polygon points="396.88,748.75 400.43,749.79 399.39,754.07 397.93,758.33 394.38,757.29 395.45,752.91" fill="#8c8c8c" stroke="#505050" stroke-width="0.35" />
<polygon points="396.79,751.54 399.00,752.18 397.90,755.92 395.70,755.28" fill="#e4e4e4" stroke="none" stroke-width="1" />
<polygon points="397.17,749.88 399.57,750.58 399.14,751.70 396.93,751.06" fill="#4a4a4a" stroke="none" stroke-width="1" />
<polygon points="402.16,750.29 405.71,751.33 404.66,755.61 403.21,759.87 399.66,758.83 400.73,754.46" fill="#8c8c8c" stroke="#505050" stroke-width="0.35" />
<polygon points="402.07,753.08 404.28,753.72 403.18,757.47 400.98,756.82" fill="#e4e4e4" stroke="none" stroke-width="1" />
<polygon points="402.45,751.42 404.85,752.12 404.42,753.24 402.21,752.60" fill="#4a4a4a" stroke="none" stroke-width="1" />
<polygon points="407.44,751.83 410.99,752.87 409.94,757.15 408.49,761.42 404.94,760.38 406.01,756.00" fill="#8c8c8c" stroke="#505050" stroke-width="0.35" />
<polygon points="407.35,754.62 409.56,755.27 408.46,759.01 406.25,758.37" fill="#e4e4e4" stroke="none" stroke-width="1" />
<polygon points="407.73,752.96 410.13,753.66 409.70,754.79 407.49,754.14" fill="#4a4a4a" stroke="none" stroke-width="1" />
<polygon points="412.71,753.38 416.27,754.42 415.22,758.70 413.77,762.96 410.22,761.92 411.29,757.55" fill="#8c8c8c" stroke="#505050" stroke-width="0.35" />
<polygon points="412.63,756.17 414.84,756.81 413.74,760.56 411.53,759.91" fill="#e4e4e4" stroke="none" stroke-width="1" />
<polygon points="413.01,754.51 415.41,755.21 414.98,756.33 412.77,755.69" fill="#4a4a4a" stroke="none" stroke-width="1" />
<polygon points="417.99,754.92 421.54,755.96 420.50,760.24 419.05,764.50 415.50,763.46 416.57,759.09" fill="#8c8c8c" stroke="#505050" stroke-width="0.35" />
<polygon points="417.91,757.71 420.11,758.36 419.02,762.10 416.81,761.45" fill="#e4e4e4" stroke="none" stroke-width="1" />
<polygon points="418.29,756.05 420.69,756.75 420.26,757.88 418.05,757.23" fill="#4a4a4a" stroke="none" stroke-width="1" />
<polygon points="423.27,756.47 426.82,757.50 425.78,761.78 424.33,766.05 420.77,765.01 421.85,760.63" fill="#8c8c8c" stroke="#505050" stroke-width="0.35" />
<polygon points="423.19,759.25 425.39,759.90 424.30,763.64 422.09,763.00" fill="#e4e4e4" stroke="none" stroke-width="1" />
<polygon points="423.57,757.59 425.97,758.30 425.53,759.42 423.33,758.77" fill="#4a4a4a" stroke="none" stroke-width="1" />
<polygon points="428.55,758.01 432.10,759.05 431.06,763.33 429.60,767.59 426.05,766.55 427.12,762.18" fill="#8c8c8c" stroke="#505050" stroke-width="0.35" />
<polygon points="428.47,760.80 430.67,761.44 429.58,765.19 427.37,764.54" fill="#e4e4e4" stroke="none" stroke-width="1" />
<polygon points="428.85,759.14 431.25,759.84 430.81,760.96 428.61,760.32" fill="#4a4a4a" stroke="none" stroke-width="1" />
<polygon points="437.80,759.57 442.99,761.09 440.01,771.26 434.83,769.75" fill="#f1f3f5" stroke="#8a8a8a" stroke-width="0.5" />
<polygon points="438.32,760.66 441.87,761.70 440.83,765.98 439.37,770.24 435.82,769.20 436.89,764.83" fill="#8c8c8c" stroke="#505050" stroke-width="0.35" />
<polygon points="438.23,763.45 440.44,764.09 439.35,767.84 437.14,767.19" fill="#e4e4e4" stroke="none" stroke-width="1" />
<polygon points="438.61,761.79 441.01,762.49 440.58,763.61 438.37,762.97" fill="#4a4a4a" stroke="none" stroke-width="1" />
<polygon points="449.80,762.97 473.90,770.02 470.92,780.19 446.83,773.15" fill="#f1f3f5" stroke="#8a8a8a" stroke-width="0.5" />
<polygon points="450.32,764.06 453.58,765.01 452.54,769.29 451.08,773.56 447.82,772.60 448.89,768.23" fill="#8c8c8c" stroke="#505050" stroke-width="0.35" />
<polygon points="450.23,766.85 452.15,767.41 451.06,771.15 449.14,770.59" fill="#e4e4e4" stroke="none" stroke-width="1" />
<polygon points="450.61,765.19 452.73,765.81 452.29,766.93 450.37,766.37" fill="#4a4a4a" stroke="none" stroke-width="1" />
<polygon points="455.12,765.46 458.38,766.42 457.34,770.70 455.88,774.96 452.62,774.01 453.69,769.63" fill="#8c8c8c" stroke="#505050" stroke-width="0.35" />
<polygon points="455.03,768.25 456.95,768.81 455.86,772.56 453.94,771.99" fill="#e4e4e4" stroke="none" stroke-width="1" />
<polygon points="455.41,766.59 457.53,767.21 457.09,768.33 455.17,767.77" fill="#4a4a4a" stroke="none" stroke-width="1" />
<polygon points="459.92,766.87 463.18,767.82 462.14,772.10 460.68,776.36 457.42,775.41 458.49,771.03" fill="#8c8c8c" stroke="#505050" stroke-width="0.35" />
<polygon points="459.83,769.65 461.75,770.22 460.66,773.96 458.74,773.40" fill="#e4e4e4" stroke="none" stroke-width="1" />
<polygon points="460.21,767.99 462.32,768.61 461.89,769.74 459.97,769.17" fill="#4a4a4a" stroke="none" stroke-width="1" />
<polygon points="464.72,768.27 467.98,769.22 466.94,773.50 465.48,777.77 462.22,776.81 463.29,772.44" fill="#8c8c8c" stroke="#505050" stroke-width="0.35" />
<polygon points="464.63,771.06 466.55,771.62 465.46,775.36 463.54,774.80" fill="#e4e4e4" stroke="none" stroke-width="1" />
<polygon points="465.01,769.40 467.12,770.02 466.69,771.14 464.77,770.58" fill="#4a4a4a" stroke="none" stroke-width="1" />
<polygon points="469.52,769.67 472.78,770.63 471.74,774.91 470.28,779.17 467.02,778.22 468.09,773.84" fill="#8c8c8c" stroke="#505050" stroke-width="0.35" />
<polygon points="469.43,772.46 471.35,773.02 470.25,776.77 468.34,776.20" fill="#e4e4e4" stroke="none" stroke-width="1" />
<polygon points="469.81,770.80 471.92,771.42 471.49,772.54 469.57,771.98" fill="#4a4a4a" stroke="none" stroke-width="1" />
<polygon points="162.40,584.20 167.77,585.80 166.51,590.01 161.15,588.42" fill="#777" stroke="#3e3e3e" stroke-width="0.4" />
<polygon points="163.87,585.58 165.98,586.20 165.24,588.70 163.13,588.07" fill="#cfcfcf" stroke="none" stroke-width="1" />
<polygon points="168.34,585.97 173.71,587.56 172.46,591.78 167.09,590.18" fill="#777" stroke="#3e3e3e" stroke-width="0.4" />
<polygon points="169.81,587.34 171.92,587.97 171.18,590.46 169.07,589.84" fill="#cfcfcf" stroke="none" stroke-width="1" />
<polygon points="160.69,589.95 166.06,591.55 164.80,595.77 159.44,594.17" fill="#777" stroke="#3e3e3e" stroke-width="0.4" />
<polygon points="162.16,591.33 164.27,591.95 163.53,594.45 161.42,593.82" fill="#cfcfcf" stroke="none" stroke-width="1" />
<polygon points="166.63,591.72 172.00,593.31 170.75,597.53 165.38,595.94" fill="#777" stroke="#3e3e3e" stroke-width="0.4" />
<polygon points="168.10,593.09 170.21,593.72 169.47,596.21 167.36,595.59" fill="#cfcfcf" stroke="none" stroke-width="1" />
<polygon points="158.98,595.70 164.35,597.30 163.09,601.52 157.73,599.92" fill="#777" stroke="#3e3e3e" stroke-width="0.4" />
<polygon points="160.45,597.08 162.56,597.71 161.82,600.20 159.71,599.57" fill="#cfcfcf" stroke="none" stroke-width="1" />
<polygon points="164.92,597.47 170.29,599.07 169.04,603.28 163.67,601.69" fill="#777" stroke="#3e3e3e" stroke-width="0.4" />
<polygon points="166.39,598.85 168.50,599.47 167.76,601.97 165.65,601.34" fill="#cfcfcf" stroke="none" stroke-width="1" />
<polygon points="157.27,601.45 162.64,603.05 161.38,607.27 156.02,605.67" fill="#777" stroke="#3e3e3e" stroke-width="0.4" />
<polygon points="158.74,602.83 160.85,603.46 160.11,605.95 158.00,605.32" fill="#cfcfcf" stroke="none" stroke-width="1" />
<polygon points="163.21,603.22 168.58,604.82 167.33,609.04 161.96,607.44" fill="#777" stroke="#3e3e3e" stroke-width="0.4" />
<polygon points="164.68,604.60 166.79,605.22 166.05,607.72 163.94,607.09" fill="#cfcfcf" stroke="none" stroke-width="1" />
<polygon points="155.56,607.21 160.93,608.80 159.67,613.02 154.31,611.42" fill="#777" stroke="#3e3e3e" stroke-width="0.4" />
<polygon points="157.03,608.58 159.14,609.21 158.40,611.70 156.29,611.07" fill="#cfcfcf" stroke="none" stroke-width="1" />
<polygon points="161.50,608.97 166.87,610.57 165.62,614.79 160.25,613.19" fill="#777" stroke="#3e3e3e" stroke-width="0.4" />
<polygon points="162.97,610.35 165.08,610.98 164.34,613.47 162.23,612.84" fill="#cfcfcf" stroke="none" stroke-width="1" />
<polygon points="152.80,619.80 158.17,621.40 156.91,625.61 151.55,624.02" fill="#777" stroke="#3e3e3e" stroke-width="0.4" />
<polygon points="154.27,621.18 156.38,621.80 155.64,624.30 153.53,623.67" fill="#cfcfcf" stroke="none" stroke-width="1" />
<polygon points="158.74,621.57 164.11,623.16 162.86,627.38 157.49,625.78" fill="#777" stroke="#3e3e3e" stroke-width="0.4" />
<polygon points="160.21,622.94 162.32,623.57 161.58,626.06 159.47,625.44" fill="#cfcfcf" stroke="none" stroke-width="1" />
<polygon points="151.09,625.55 156.46,627.15 155.20,631.37 149.84,629.77" fill="#777" stroke="#3e3e3e" stroke-width="0.4" />
<polygon points="152.56,626.93 154.67,627.55 153.93,630.05 151.82,629.42" fill="#cfcfcf" stroke="none" stroke-width="1" />
<polygon points="157.03,627.32 162.40,628.91 161.15,633.13 155.78,631.54" fill="#777" stroke="#3e3e3e" stroke-width="0.4" />
<polygon points="158.50,628.69 160.61,629.32 159.87,631.81 157.76,631.19" fill="#cfcfcf" stroke="none" stroke-width="1" />
<polygon points="149.38,631.30 154.75,632.90 153.49,637.12 148.13,635.52" fill="#777" stroke="#3e3e3e" stroke-width="0.4" />
<polygon points="150.85,632.68 152.96,633.31 152.22,635.80 150.11,635.17" fill="#cfcfcf" stroke="none" stroke-width="1" />
<polygon points="155.32,633.07 160.69,634.67 159.44,638.88 154.07,637.29" fill="#777" stroke="#3e3e3e" stroke-width="0.4" />
<polygon points="156.79,634.45 158.90,635.07 158.16,637.57 156.05,636.94" fill="#cfcfcf" stroke="none" stroke-width="1" />
<polygon points="147.67,637.05 153.04,638.65 151.78,642.87 146.42,641.27" fill="#777" stroke="#3e3e3e" stroke-width="0.4" />
<polygon points="149.14,638.43 151.25,639.06 150.51,641.55 148.40,640.92" fill="#cfcfcf" stroke="none" stroke-width="1" />
<polygon points="153.61,638.82 158.98,640.42 157.73,644.64 152.36,643.04" fill="#777" stroke="#3e3e3e" stroke-width="0.4" />
<polygon points="155.08,640.20 157.19,640.82 156.45,643.32 154.34,642.69" fill="#cfcfcf" stroke="none" stroke-width="1" />
<polygon points="582.50,497.50 602.50,487.50 604.00,490.00 556.00,631.20 543.30,627.20 530.50,666.00 542.00,671.00 523.75,727.50 505.00,721.25" fill="#59bf92" stroke="#234f3d" stroke-width="0.8" />
<line x1="582.50" y1="497.50" x2="593.50" y2="499.50" stroke="#234f3d" stroke-width="0.5"/>
<polygon points="508.75,772.50 598.00,800.00 581.00,805.80 501.25,794.00" fill="#59bf92" stroke="#234f3d" stroke-width="0.8" />
<polygon points="693.00,527.00 707.50,533.75 616.25,804.30 602.00,799.00" fill="#ef7640" stroke="#2e1626" stroke-width="1.0" />
<polygon points="603.75,487.50 697.50,518.75 605.00,799.70 511.25,772.50 543.75,670.00 531.25,666.25 542.50,627.50 555.00,631.25" fill="#ef7640" stroke="#2e1626" stroke-width="1.0" />
<polyline points="607.50,371.00 775.00,423.75 759.50,503.50" fill="none" stroke="#a8343a" stroke-width="1.0" />
<polyline points="605.30,386.00 752.50,432.50 738.50,505.00" fill="none" stroke="#a8343a" stroke-width="1.0" />
<polyline points="582.50,383.75 601.25,388.75 713.75,426.25 691.25,496.25 755.00,518.75" fill="none" stroke="#c41d86" stroke-width="2.2" />
<polygon points="633.75,408.75 705.00,431.25 677.50,508.75 606.25,486.25" fill="#f3e3ef" stroke="#d9202a" stroke-width="2.4" />
<polyline points="717.60,372.50 717.60,337.80 728.80,337.80 728.80,372.50 733.90,372.50 723.10,406.00 712.40,372.50 717.60,372.50" fill="none" stroke="#a8343a" stroke-width="1.0" />
<line x1="697.50" y1="518.75" x2="605.00" y2="799.70" stroke="#2e1626" stroke-width="1.5"/>
<line x1="601.60" y1="489.30" x2="553.20" y2="630.20" stroke="#234f3d" stroke-width="0.7"/>
<line x1="551.60" y1="258.90" x2="697.50" y2="258.90" stroke="#9a9a9a" stroke-width="0.8"/>
<line x1="617.80" y1="286.70" x2="697.50" y2="286.70" stroke="#9a9a9a" stroke-width="0.8"/>
<line x1="565.00" y1="315.90" x2="697.50" y2="315.90" stroke="#9a9a9a" stroke-width="0.8"/>
<polyline points="366.00,334.30 600.00,340.00 697.50,342.50" fill="none" stroke="#8a8a8a" stroke-width="0.7" />
<polyline points="483.75,343.75 612.00,354.50 674.00,361.30" fill="none" stroke="#8a8a8a" stroke-width="0.7" />
<line x1="486.25" y1="327.50" x2="486.25" y2="343.50" stroke="#8a8a8a" stroke-width="0.7"/>
<polyline points="482.50,346.50 520.00,356.00" fill="none" stroke="#8a8a8a" stroke-width="0.7" />
<line x1="681.00" y1="474.50" x2="765.00" y2="474.50" stroke="#7a7a7a" stroke-width="0.8"/>
<polyline points="520.50,232.00 521.50,227.00 548.00,235.00 549.50,230.50" fill="none" stroke="#b9aebd" stroke-width="0.6" />
<polyline points="549.00,258.50 551.60,250.50 588.00,261.00" fill="none" stroke="#b9aebd" stroke-width="0.6" />
<circle cx="123.75" cy="690.75" r="6.1" fill="#e6ebf1" stroke="#3a3a3a" stroke-width="0.8"/>
<text x="123.75" y="693.95" font-family="'Liberation Sans', sans-serif" font-size="9" fill="#2c2c2c" text-anchor="middle" font-weight="normal" font-style="normal" >1</text>
<circle cx="280.50" cy="699.50" r="6.1" fill="#ffffff" stroke="#3a3a3a" stroke-width="0.8"/>
<text x="280.50" y="702.70" font-family="'Liberation Sans', sans-serif" font-size="9" fill="#2c2c2c" text-anchor="middle" font-weight="normal" font-style="normal" >2</text>
<circle cx="167.50" cy="652.50" r="6.1" fill="#ffffff" stroke="#3a3a3a" stroke-width="0.8"/>
<text x="167.50" y="655.70" font-family="'Liberation Sans', sans-serif" font-size="9" fill="#2c2c2c" text-anchor="middle" font-weight="normal" font-style="normal" >3</text>
<circle cx="292.50" cy="437.00" r="6.1" fill="#ffffff" stroke="#3a3a3a" stroke-width="0.8"/>
<text x="292.50" y="440.20" font-family="'Liberation Sans', sans-serif" font-size="9" fill="#2c2c2c" text-anchor="middle" font-weight="normal" font-style="normal" >4</text>
<circle cx="253.75" cy="533.10" r="6.1" fill="#ffffff" stroke="#3a3a3a" stroke-width="0.8"/>
<text x="253.75" y="536.30" font-family="'Liberation Sans', sans-serif" font-size="9" fill="#2c2c2c" text-anchor="middle" font-weight="normal" font-style="normal" >5</text>
<circle cx="222.50" cy="607.00" r="6.1" fill="#ffffff" stroke="#3a3a3a" stroke-width="0.8"/>
<text x="222.50" y="610.20" font-family="'Liberation Sans', sans-serif" font-size="9" fill="#2c2c2c" text-anchor="middle" font-weight="normal" font-style="normal" >6</text>
<circle cx="403.75" cy="673.25" r="6.1" fill="#ffffff" stroke="#3a3a3a" stroke-width="0.8"/>
<text x="403.75" y="676.45" font-family="'Liberation Sans', sans-serif" font-size="9" fill="#2c2c2c" text-anchor="middle" font-weight="normal" font-style="normal" >7</text>
<circle cx="201.25" cy="511.25" r="6.1" fill="#ffffff" stroke="#3a3a3a" stroke-width="0.8"/>
<text x="201.25" y="514.45" font-family="'Liberation Sans', sans-serif" font-size="9" fill="#2c2c2c" text-anchor="middle" font-weight="normal" font-style="normal" >8</text>
<circle cx="257.50" cy="378.10" r="6.1" fill="#ffffff" stroke="#3a3a3a" stroke-width="0.8"/>
<text x="257.50" y="381.30" font-family="'Liberation Sans', sans-serif" font-size="9" fill="#2c2c2c" text-anchor="middle" font-weight="normal" font-style="normal" >9</text>
<circle cx="386.25" cy="652.50" r="6.1" fill="#ffffff" stroke="#3a3a3a" stroke-width="0.8"/>
<text x="386.25" y="655.60" font-family="'Liberation Sans', sans-serif" font-size="8.6" fill="#2c2c2c" text-anchor="middle" font-weight="normal" font-style="normal" textLength="8.20" lengthAdjust="spacingAndGlyphs" >10</text>
<circle cx="283.50" cy="353.10" r="6.1" fill="#ffffff" stroke="#3a3a3a" stroke-width="0.8"/>
<text x="283.50" y="356.20" font-family="'Liberation Sans', sans-serif" font-size="8.6" fill="#2c2c2c" text-anchor="middle" font-weight="normal" font-style="normal" textLength="8.20" lengthAdjust="spacingAndGlyphs" >11</text>
<circle cx="375.00" cy="359.70" r="6.1" fill="#ffffff" stroke="#3a3a3a" stroke-width="0.8"/>
<text x="375.00" y="362.80" font-family="'Liberation Sans', sans-serif" font-size="8.6" fill="#2c2c2c" text-anchor="middle" font-weight="normal" font-style="normal" textLength="8.20" lengthAdjust="spacingAndGlyphs" >12</text>
<circle cx="430.00" cy="418.25" r="6.1" fill="#ffffff" stroke="#3a3a3a" stroke-width="0.8"/>
<text x="430.00" y="421.35" font-family="'Liberation Sans', sans-serif" font-size="8.6" fill="#2c2c2c" text-anchor="middle" font-weight="normal" font-style="normal" textLength="8.20" lengthAdjust="spacingAndGlyphs" >13</text>
<circle cx="396.25" cy="728.75" r="6.1" fill="#ffffff" stroke="#3a3a3a" stroke-width="0.8"/>
<text x="396.25" y="731.85" font-family="'Liberation Sans', sans-serif" font-size="8.6" fill="#2c2c2c" text-anchor="middle" font-weight="normal" font-style="normal" textLength="8.20" lengthAdjust="spacingAndGlyphs" >14</text>
<circle cx="525.00" cy="467.00" r="6.1" fill="#ffffff" stroke="#3a3a3a" stroke-width="0.8"/>
<text x="525.00" y="470.10" font-family="'Liberation Sans', sans-serif" font-size="8.6" fill="#2c2c2c" text-anchor="middle" font-weight="normal" font-style="normal" textLength="8.20" lengthAdjust="spacingAndGlyphs" >15</text>
<circle cx="529.50" cy="761.25" r="6.1" fill="#ffffff" stroke="#3a3a3a" stroke-width="0.8"/>
<text x="529.50" y="764.35" font-family="'Liberation Sans', sans-serif" font-size="8.6" fill="#2c2c2c" text-anchor="middle" font-weight="normal" font-style="normal" textLength="8.20" lengthAdjust="spacingAndGlyphs" >16</text>
<circle cx="476.25" cy="343.75" r="6.1" fill="#ffffff" stroke="#3a3a3a" stroke-width="0.8"/>
<text x="476.25" y="346.85" font-family="'Liberation Sans', sans-serif" font-size="8.6" fill="#2c2c2c" text-anchor="middle" font-weight="normal" font-style="normal" textLength="8.20" lengthAdjust="spacingAndGlyphs" >17</text>
<circle cx="500.00" cy="351.25" r="6.1" fill="#ffffff" stroke="#3a3a3a" stroke-width="0.8"/>
<text x="500.00" y="354.35" font-family="'Liberation Sans', sans-serif" font-size="8.6" fill="#2c2c2c" text-anchor="middle" font-weight="normal" font-style="normal" textLength="8.20" lengthAdjust="spacingAndGlyphs" >18</text>
<text x="440.00" y="54.95" font-family="'Liberation Sans', sans-serif" font-size="10.5" fill="#2e2630" text-anchor="middle" font-weight="normal" font-style="normal" >Стр.</text>
<text x="440.00" y="67.45" font-family="'Liberation Sans', sans-serif" font-size="10.5" fill="#2e2630" text-anchor="middle" font-weight="normal" font-style="normal" >21</text>
<text x="568.75" y="71.20" font-family="'Liberation Sans', sans-serif" font-size="10.5" fill="#2e2630" text-anchor="middle" font-weight="normal" font-style="normal" >Стр.</text>
<text x="568.75" y="83.20" font-family="'Liberation Sans', sans-serif" font-size="10.5" fill="#2e2630" text-anchor="middle" font-weight="normal" font-style="normal" >22</text>
<text x="645.00" y="97.45" font-family="'Liberation Sans', sans-serif" font-size="10.5" fill="#2e2630" text-anchor="middle" font-weight="normal" font-style="normal" >Стр.</text>
<text x="645.00" y="109.95" font-family="'Liberation Sans', sans-serif" font-size="10.5" fill="#2e2630" text-anchor="middle" font-weight="normal" font-style="normal" >23</text>
<text x="471.25" y="123.20" font-family="'Liberation Sans', sans-serif" font-size="10.5" fill="#2e2630" text-anchor="middle" font-weight="normal" font-style="normal" >Стр.</text>
<text x="471.25" y="134.95" font-family="'Liberation Sans', sans-serif" font-size="10.5" fill="#2e2630" text-anchor="middle" font-weight="normal" font-style="normal" >24</text>
<text x="537.50" y="137.95" font-family="'Liberation Sans', sans-serif" font-size="10.5" fill="#2e2630" text-anchor="middle" font-weight="normal" font-style="normal" >Стр.</text>
<text x="537.50" y="149.95" font-family="'Liberation Sans', sans-serif" font-size="10.5" fill="#2e2630" text-anchor="middle" font-weight="normal" font-style="normal" >25</text>
<text x="603.00" y="156.70" font-family="'Liberation Sans', sans-serif" font-size="10.5" fill="#2e2630" text-anchor="middle" font-weight="normal" font-style="normal" >Стр.</text>
<text x="603.00" y="168.70" font-family="'Liberation Sans', sans-serif" font-size="10.5" fill="#2e2630" text-anchor="middle" font-weight="normal" font-style="normal" >26</text>
<text x="427.00" y="167.45" font-family="'Liberation Sans', sans-serif" font-size="10.5" fill="#2e2630" text-anchor="middle" font-weight="normal" font-style="normal" >Стр.</text>
<text x="427.00" y="179.95" font-family="'Liberation Sans', sans-serif" font-size="10.5" fill="#2e2630" text-anchor="middle" font-weight="normal" font-style="normal" >20</text>
<text x="335.50" y="248.70" font-family="'Liberation Sans', sans-serif" font-size="10.5" fill="#2e2630" text-anchor="middle" font-weight="normal" font-style="normal" >Стр.</text>
<text x="335.50" y="260.70" font-family="'Liberation Sans', sans-serif" font-size="10.5" fill="#2e2630" text-anchor="middle" font-weight="normal" font-style="normal" >18</text>
<text x="309.00" y="300.70" font-family="'Liberation Sans', sans-serif" font-size="10" fill="#2e2630" text-anchor="middle" font-weight="normal" font-style="normal" >Стр.</text>
<text x="309.00" y="311.50" font-family="'Liberation Sans', sans-serif" font-size="10" fill="#2e2630" text-anchor="middle" font-weight="normal" font-style="normal" >17</text>
<text x="372.00" y="300.00" font-family="'Liberation Sans', sans-serif" font-size="10.5" fill="#2e2630" text-anchor="start" font-weight="normal" font-style="normal" >Стр. 34</text>
<text x="372.00" y="347.00" font-family="'Liberation Sans', sans-serif" font-size="10.5" fill="#2e2630" text-anchor="start" font-weight="normal" font-style="normal" >Стр. 46</text>
<text x="276.90" y="387.45" font-family="'Liberation Sans', sans-serif" font-size="10.5" fill="#2e2630" text-anchor="middle" font-weight="normal" font-style="normal" >Стр.</text>
<text x="276.90" y="397.30" font-family="'Liberation Sans', sans-serif" font-size="10.5" fill="#2e2630" text-anchor="middle" font-weight="normal" font-style="normal" >43</text>
<text x="229.00" y="458.70" font-family="'Liberation Sans', sans-serif" font-size="10.5" fill="#2e2630" text-anchor="middle" font-weight="normal" font-style="normal" >Стр.</text>
<text x="229.00" y="469.95" font-family="'Liberation Sans', sans-serif" font-size="10.5" fill="#2e2630" text-anchor="middle" font-weight="normal" font-style="normal" >42</text>
<text x="330.00" y="445.70" font-family="'Liberation Sans', sans-serif" font-size="10.5" fill="#2e2630" text-anchor="middle" font-weight="normal" font-style="normal" >Стр. 44</text>
<text x="462.50" y="433.70" font-family="'Liberation Sans', sans-serif" font-size="10.5" fill="#2e2630" text-anchor="middle" font-weight="normal" font-style="normal" >Стр. 48</text>
<text x="515.50" y="376.20" font-family="'Liberation Sans', sans-serif" font-size="10.5" fill="#2e2630" text-anchor="middle" font-weight="normal" font-style="normal" >Стр.</text>
<text x="515.50" y="387.20" font-family="'Liberation Sans', sans-serif" font-size="10.5" fill="#2e2630" text-anchor="middle" font-weight="normal" font-style="normal" >36</text>
<text x="545.00" y="419.95" font-family="'Liberation Sans', sans-serif" font-size="10.5" fill="#2e2630" text-anchor="middle" font-weight="normal" font-style="normal" >Стр.</text>
<text x="545.00" y="431.20" font-family="'Liberation Sans', sans-serif" font-size="10.5" fill="#2e2630" text-anchor="middle" font-weight="normal" font-style="normal" >51</text>
<text x="183.00" y="620.70" font-family="'Liberation Sans', sans-serif" font-size="10.5" fill="#2e2630" text-anchor="middle" font-weight="normal" font-style="normal" >Стр.</text>
<text x="183.00" y="631.70" font-family="'Liberation Sans', sans-serif" font-size="10.5" fill="#2e2630" text-anchor="middle" font-weight="normal" font-style="normal" >38</text>
<text x="301.25" y="615.00" font-family="'Liberation Sans', sans-serif" font-size="10.5" fill="#2e2630" text-anchor="middle" font-weight="normal" font-style="normal" >Стр. 39</text>
<text x="466.25" y="607.50" font-family="'Liberation Sans', sans-serif" font-size="10.5" fill="#2e2630" text-anchor="middle" font-weight="normal" font-style="normal" >Стр. 40</text>
<text x="308.75" y="714.50" font-family="'Liberation Sans', sans-serif" font-size="10.5" fill="#2e2630" text-anchor="start" font-weight="normal" font-style="normal" >Стр. 37</text>
<text x="387.60" y="82.80" font-family="'Liberation Sans', sans-serif" font-size="8" fill="#3c3c3c" text-anchor="start" font-weight="normal" font-style="normal" >Зап. выезд</text>
<text x="724.80" y="502.80" font-family="'Liberation Sans', sans-serif" font-size="8" fill="#3c3c3c" text-anchor="start" font-weight="normal" font-style="normal" >Зап. выезд</text>
<text x="664.60" y="824.40" font-family="'Liberation Sans', sans-serif" font-size="8" fill="#3c3c3c" text-anchor="start" font-weight="normal" font-style="normal" >Зап. выезд</text>
<text x="129.50" y="753.00" font-family="'Liberation Sans', sans-serif" font-size="10" fill="#3c3c3c" text-anchor="middle" font-weight="normal" font-style="normal" >Основной</text>
<text x="129.50" y="764.70" font-family="'Liberation Sans', sans-serif" font-size="10" fill="#3c3c3c" text-anchor="middle" font-weight="normal" font-style="normal" >въезд</text>
<text x="546.50" y="389.50" font-family="'Liberation Sans', sans-serif" font-size="5.6" fill="#3c3c3c" text-anchor="start" font-weight="normal" font-style="normal" transform="rotate(16.00 546.50 389.50)" >Хоз. Двор</text>
<text x="461.00" y="363.00" font-family="'Liberation Sans', sans-serif" font-size="5.2" fill="#3c3c3c" text-anchor="start" font-weight="normal" font-style="normal" transform="rotate(18.50 461.00 363.00)" >здание</text>
<text x="439.50" y="364.30" font-family="'Liberation Sans', sans-serif" font-size="5.8" fill="#3c3c3c" text-anchor="start" font-weight="normal" font-style="normal" transform="rotate(18.70 439.50 364.30)" >транспортного отдела</text>
<text x="141.20" y="648.20" font-family="'Liberation Sans', sans-serif" font-size="8" fill="#3c3c3c" text-anchor="start" font-weight="normal" font-style="normal" transform="rotate(-74.70 141.20 648.20)" >Стоянка 18 м/мест</text>
<text x="278.50" y="746.20" font-family="'Liberation Sans', sans-serif" font-size="8" fill="#3c3c3c" text-anchor="start" font-weight="normal" font-style="normal" transform="rotate(15.80 278.50 746.20)" >Стоянка 50 м/мест</text>
<text x="383.50" y="765.60" font-family="'Liberation Sans', sans-serif" font-size="8" fill="#3c3c3c" text-anchor="start" font-weight="normal" font-style="normal" transform="rotate(17.30 383.50 765.60)" >Стоянка 42 м/места</text>
<text x="663.20" y="744.00" font-family="'Liberation Sans', sans-serif" font-size="8" fill="#3c3c3c" text-anchor="start" font-weight="normal" font-style="normal" transform="rotate(-71.30 663.20 744.00)" >Стоянка грузового транспорта</text>
<text x="171.80" y="419.50" font-family="'Liberation Sans', sans-serif" font-size="8.8" fill="#444" text-anchor="start" font-weight="normal" font-style="italic" transform="rotate(-60.50 171.80 419.50)" >Красковский 1-й проезд</text>
<text x="657.50" y="453.80" font-family="'Liberation Sans', sans-serif" font-size="11" fill="#2a2a2a" text-anchor="middle" font-weight="normal" font-style="normal" >1 222 м'</text>
<text x="656.00" y="464.20" font-family="'Liberation Sans', sans-serif" font-size="9" fill="#2a2a2a" text-anchor="middle" font-weight="normal" font-style="normal" >По пятну</text>
<text x="656.00" y="474.40" font-family="'Liberation Sans', sans-serif" font-size="9" fill="#2a2a2a" text-anchor="middle" font-weight="normal" font-style="normal" >застройки</text>
<text x="736.00" y="458.80" font-family="'Liberation Sans', sans-serif" font-size="10.5" fill="#2a2a2a" text-anchor="middle" font-weight="normal" font-style="normal" >Достройка</text>
<text x="737.50" y="470.80" font-family="'Liberation Sans', sans-serif" font-size="10.5" fill="#2a2a2a" text-anchor="middle" font-weight="normal" font-style="normal" >16 СГП</text>
<text x="736.30" y="353.80" font-family="'Liberation Serif', serif" font-size="7.6" fill="#b5403c" text-anchor="start" font-weight="bold" font-style="normal" textLength="65.00" lengthAdjust="spacingAndGlyphs" >ПЛАН ДОРОГА</text>
<path d="M0,0 l3,-4 l2,4 l2,-4 l3,4" transform="translate(431.0 84.5) rotate(-40)" fill="none" stroke="#777" stroke-width="0.6"/>
<path d="M0,0 l3,-4 l2,4 l2,-4 l3,4" transform="translate(612.0 380.0) rotate(-60)" fill="none" stroke="#777" stroke-width="0.6"/>
<path d="M0,0 l3,-4 l2,4 l2,-4 l3,4" transform="translate(731.0 511.0) rotate(20)" fill="none" stroke="#777" stroke-width="0.6"/>
<path d="M0,0 l3,-4 l2,4 l2,-4 l3,4" transform="translate(654.0 822.0) rotate(-70)" fill="none" stroke="#777" stroke-width="0.6"/>
<path d="M0,0 l3,-4 l2,4 l2,-4 l3,4" transform="translate(398.0 339.0) rotate(20)" fill="none" stroke="#777" stroke-width="0.6"/>
<text x="698.40" y="253.50" font-family="'Liberation Sans', sans-serif" font-size="10.5" fill="#a9a9a9" text-anchor="end" font-weight="normal" font-style="normal" >Стр.30</text>
<text x="698.40" y="281.30" font-family="'Liberation Sans', sans-serif" font-size="10.5" fill="#a9a9a9" text-anchor="end" font-weight="normal" font-style="normal" >Стр.28</text>
<text x="698.40" y="311.00" font-family="'Liberation Sans', sans-serif" font-size="10.5" fill="#a9a9a9" text-anchor="end" font-weight="normal" font-style="normal" >Стр.1</text>
<text x="672.50" y="334.50" font-family="'Liberation Serif', serif" font-size="11.5" fill="#6e6e6e" text-anchor="start" font-weight="normal" font-style="normal" >Стр. 34</text>
<text x="678.75" y="366.30" font-family="'Liberation Serif', serif" font-size="11.5" fill="#8a8a8a" text-anchor="start" font-weight="normal" font-style="normal" >Стр. 31</text>
<text x="707.5" y="256" font-family="'Liberation Sans', sans-serif" font-size="11.2" fill="#141414">Стр.1, 28, 30 <tspan font-family="'Liberation Serif', serif" font-weight="bold" font-size="10.5">, 34</tspan></text>
<text x="707.50" y="268.00" font-family="'Liberation Sans', sans-serif" font-size="11.2" fill="#141414" text-anchor="start" font-weight="normal" font-style="normal" >сносятся,</text>
<text x="707.50" y="280.00" font-family="'Liberation Sans', sans-serif" font-size="11.2" fill="#141414" text-anchor="start" font-weight="normal" font-style="normal" >на их месте</text>
<text x="707.50" y="292.00" font-family="'Liberation Sans', sans-serif" font-size="11.2" fill="#141414" text-anchor="start" font-weight="normal" font-style="normal" >строительство</text>
<text x="707.50" y="304.00" font-family="'Liberation Sans', sans-serif" font-size="11.2" fill="#141414" text-anchor="start" font-weight="normal" font-style="normal" >нового склада</text>
<text x="707.5" y="316" font-family="'Liberation Sans', sans-serif" font-size="11.2" fill="#141414">по пятну 4 320 м<tspan font-size="6.5" dy="-4">2</tspan></text>
<rect x="311.50" y="100.00" width="91.00" height="25.00" fill="#e6128a"/>
<text x="315.00" y="118.20" font-family="'Liberation Sans', sans-serif" font-size="16.6" fill="#fdeaf5" text-anchor="start" font-weight="normal" font-style="normal" textLength="84.50" lengthAdjust="spacingAndGlyphs" >Кожухово-2</text>
<rect x="98.30" y="438.00" width="90.50" height="25.00" fill="#e6128a"/>
<text x="104.00" y="456.00" font-family="'Liberation Sans', sans-serif" font-size="16.6" fill="#fdeaf5" text-anchor="start" font-weight="normal" font-style="normal" textLength="82.70" lengthAdjust="spacingAndGlyphs" >Кожухово-1</text>
<rect x="717.00" y="661.50" width="91.00" height="24.25" fill="#e6128a"/>
<text x="720.30" y="679.60" font-family="'Liberation Sans', sans-serif" font-size="16.6" fill="#fdeaf5" text-anchor="start" font-weight="normal" font-style="normal" textLength="83.60" lengthAdjust="spacingAndGlyphs" >Кожухово-3</text>
<polygon points="127.50,483.75 161.25,483.75 161.25,478.00 195.00,490.00 161.25,502.00 161.25,496.25 127.50,496.25" fill="none" stroke="#d7252f" stroke-width="1.0" />
<polygon points="245.60,348.10 268.10,348.10 268.10,343.75 290.00,353.10 268.10,361.25 268.10,358.10 245.60,358.10" fill="none" stroke="#d7252f" stroke-width="1.0" />
<polygon points="235.00,703.25 270.00,703.25 271.00,695.50 308.75,708.50 272.50,723.25 272.50,716.00 235.00,716.00" fill="none" stroke="#d7252f" stroke-width="1.0" />
<polygon points="411.25,783.75 411.25,765.00 405.00,765.00 417.50,743.75 430.00,765.00 423.75,765.00 423.75,783.75" fill="none" stroke="#d7252f" stroke-width="1.0" />
<polygon points="507.50,583.00 525.00,575.00 526.25,580.00 543.75,580.00 543.75,587.50 526.25,587.50 525.00,592.00" fill="none" stroke="#d7252f" stroke-width="1.0" />
<polygon points="83.20,598.00 134.30,598.00 136.90,592.80 184.90,605.00 133.00,618.00 134.30,611.50 83.20,611.50" fill="none" stroke="#d7252f" stroke-width="1.0" />
<text x="102.50" y="496.00" font-family="'Liberation Serif', serif" font-size="14.5" fill="#d7252f" text-anchor="start" font-weight="bold" font-style="normal" textLength="21.50" lengthAdjust="spacingAndGlyphs" >№1</text>
<text x="218.00" y="357.30" font-family="'Liberation Serif', serif" font-size="14.5" fill="#d7252f" text-anchor="start" font-weight="bold" font-style="normal" textLength="22.00" lengthAdjust="spacingAndGlyphs" >№2</text>
<text x="208.75" y="715.75" font-family="'Liberation Serif', serif" font-size="14.5" fill="#d7252f" text-anchor="start" font-weight="bold" font-style="normal" textLength="22.50" lengthAdjust="spacingAndGlyphs" >№3</text>
<text x="403.75" y="800.00" font-family="'Liberation Serif', serif" font-size="14.5" fill="#d7252f" text-anchor="start" font-weight="bold" font-style="normal" textLength="23.50" lengthAdjust="spacingAndGlyphs" >№4</text>
<text x="536.25" y="576.25" font-family="'Liberation Serif', serif" font-size="14.5" fill="#d7252f" text-anchor="start" font-weight="bold" font-style="normal" textLength="21.50" lengthAdjust="spacingAndGlyphs" >№5</text>
<text x="56.50" y="610.20" font-family="'Liberation Serif', serif" font-size="14.5" fill="#d7252f" text-anchor="start" font-weight="bold" font-style="normal" textLength="23.00" lengthAdjust="spacingAndGlyphs" >№6</text>
<text x="44.50" y="87.00" font-family="'Liberation Sans', sans-serif" font-size="31" fill="#262626" text-anchor="start" font-weight="normal" font-style="normal" textLength="94.75" lengthAdjust="spacingAndGlyphs" stroke="#ffffff" stroke-width="0.85">СХЕМА</text>
<text x="44.50" y="124.50" font-family="'Liberation Sans', sans-serif" font-size="31" fill="#262626" text-anchor="start" font-weight="normal" font-style="normal" textLength="243.00" lengthAdjust="spacingAndGlyphs" stroke="#ffffff" stroke-width="0.85">ПСК «КОЖУХОВО»</text>
<rect x="47.3" y="224.6" width="20.4" height="17.8" fill="#f6e4ee" stroke="#d0454c" stroke-width="1"/>
<text x="77.50" y="237.30" font-family="'Liberation Sans', sans-serif" font-size="10.6" fill="#6a6a6a" text-anchor="start" font-weight="normal" font-style="normal" textLength="153.50" lengthAdjust="spacingAndGlyphs" >Перспективное строительство</text>
<rect x="850" y="67" width="149.7" height="24.8" fill="#e6128a"/>
<text x="857.50" y="84.00" font-family="'Liberation Sans', sans-serif" font-size="13.2" fill="#fdeaf5" text-anchor="start" font-weight="normal" font-style="normal" textLength="133.50" lengthAdjust="spacingAndGlyphs" >ПСК «КОЖУХОВО» 1-3:</text>
<circle cx="863.3" cy="105.50" r="6.4" fill="#fff" stroke="#2a2a2a" stroke-width="0.8"/>
<text x="863.30" y="109.10" font-family="'Liberation Sans', sans-serif" font-size="10.4" fill="#222" text-anchor="middle" font-weight="normal" font-style="normal" >1</text>
<text x="882.50" y="109.50" font-family="'Liberation Sans', sans-serif" font-size="11" fill="#1c1c1c" xml:space="preserve">- 16,0 м<tspan font-size="6" dy="-3.6">2</tspan><tspan dy="3.6" font-size="1"> </tspan></text>
<circle cx="863.3" cy="123.65" r="6.4" fill="#fff" stroke="#2a2a2a" stroke-width="0.8"/>
<text x="863.30" y="127.25" font-family="'Liberation Sans', sans-serif" font-size="10.4" fill="#222" text-anchor="middle" font-weight="normal" font-style="normal" >2</text>
<text x="884.30" y="127.65" font-family="'Liberation Sans', sans-serif" font-size="11" fill="#1c1c1c" xml:space="preserve"><tspan fill="#9a9a9a">-</tspan><tspan font-family="'Liberation Serif', serif" font-size="11.6">664,2 м.кв.</tspan></text>
<circle cx="863.3" cy="141.80" r="6.4" fill="#fff" stroke="#2a2a2a" stroke-width="0.8"/>
<text x="863.30" y="145.40" font-family="'Liberation Sans', sans-serif" font-size="10.4" fill="#222" text-anchor="middle" font-weight="normal" font-style="normal" >3</text>
<text x="887.20" y="145.80" font-family="'Liberation Sans', sans-serif" font-size="11" fill="#1c1c1c" xml:space="preserve"><tspan font-family="'Liberation Serif', serif" font-size="11.4">505 м.кв</tspan></text>
<circle cx="863.3" cy="159.95" r="6.4" fill="#fff" stroke="#2a2a2a" stroke-width="0.8"/>
<text x="863.30" y="163.55" font-family="'Liberation Sans', sans-serif" font-size="10.4" fill="#222" text-anchor="middle" font-weight="normal" font-style="normal" >4</text>
<text x="882.50" y="163.95" font-family="'Liberation Sans', sans-serif" font-size="11" fill="#1c1c1c" xml:space="preserve">- 508,8м<tspan font-size="6" dy="-3.6">2</tspan><tspan dy="3.6" font-size="1"> </tspan></text>
<circle cx="863.3" cy="178.10" r="6.4" fill="#fff" stroke="#2a2a2a" stroke-width="0.8"/>
<text x="863.30" y="181.70" font-family="'Liberation Sans', sans-serif" font-size="10.4" fill="#222" text-anchor="middle" font-weight="normal" font-style="normal" >5</text>
<text x="882.20" y="182.10" font-family="'Liberation Sans', sans-serif" font-size="11" fill="#1c1c1c" xml:space="preserve">-  <tspan font-family="'Liberation Serif', serif" font-size="11.6">7481,8</tspan> м<tspan font-size="6" dy="-3.6">2</tspan><tspan dy="3.6" font-size="1"> </tspan></text>
<circle cx="863.3" cy="196.25" r="6.4" fill="#fff" stroke="#2a2a2a" stroke-width="0.8"/>
<text x="863.30" y="199.85" font-family="'Liberation Sans', sans-serif" font-size="10.4" fill="#222" text-anchor="middle" font-weight="normal" font-style="normal" >6</text>
<text x="882.50" y="200.25" font-family="'Liberation Sans', sans-serif" font-size="11" fill="#1c1c1c" xml:space="preserve">- 3024,0м<tspan font-size="6" dy="-3.6">2</tspan><tspan dy="3.6" font-size="1"> </tspan><tspan dx="1.8">(7 019,9м</tspan><tspan font-size="6" dy="-3.6">2</tspan><tspan dy="3.6" font-size="1"> </tspan>)</text>
<circle cx="863.3" cy="214.40" r="6.4" fill="#fff" stroke="#2a2a2a" stroke-width="0.8"/>
<text x="863.30" y="218.00" font-family="'Liberation Sans', sans-serif" font-size="10.4" fill="#222" text-anchor="middle" font-weight="normal" font-style="normal" >7</text>
<text x="882.50" y="218.40" font-family="'Liberation Sans', sans-serif" font-size="11" fill="#1c1c1c" xml:space="preserve">- <tspan font-family="'Liberation Serif', serif" font-size="11.6" dx="0.8">4207,6 м.кв.</tspan></text>
<circle cx="863.3" cy="232.55" r="6.4" fill="#fff" stroke="#2a2a2a" stroke-width="0.8"/>
<text x="863.30" y="236.15" font-family="'Liberation Sans', sans-serif" font-size="10.4" fill="#222" text-anchor="middle" font-weight="normal" font-style="normal" >8</text>
<text x="882.50" y="236.55" font-family="'Liberation Sans', sans-serif" font-size="11" fill="#1c1c1c" xml:space="preserve">- <tspan font-family="'Liberation Serif', serif" font-size="11.6">1276,6 </tspan> м<tspan font-size="6" dy="-3.6">2</tspan><tspan dy="3.6" font-size="1"> </tspan></text>
<circle cx="863.3" cy="250.70" r="6.4" fill="#fff" stroke="#2a2a2a" stroke-width="0.8"/>
<text x="863.30" y="254.30" font-family="'Liberation Sans', sans-serif" font-size="10.4" fill="#222" text-anchor="middle" font-weight="normal" font-style="normal" >9</text>
<text x="882.50" y="254.70" font-family="'Liberation Sans', sans-serif" font-size="11" fill="#1c1c1c" xml:space="preserve">- 59,8м<tspan font-size="6" dy="-3.6">2</tspan><tspan dy="3.6" font-size="1"> </tspan></text>
<circle cx="863.3" cy="268.85" r="6.4" fill="#fff" stroke="#2a2a2a" stroke-width="0.8"/>
<text x="863.30" y="272.25" font-family="'Liberation Sans', sans-serif" font-size="10" fill="#222" text-anchor="middle" font-weight="normal" font-style="normal" textLength="9.40" lengthAdjust="spacingAndGlyphs" >10</text>
<text x="882.50" y="272.85" font-family="'Liberation Sans', sans-serif" font-size="11" fill="#1c1c1c" xml:space="preserve">- (АБК) -  <tspan font-family="'Liberation Serif', serif" font-size="11.6">923,8 </tspan> м<tspan font-size="6" dy="-3.6">2</tspan><tspan dy="3.6" font-size="1"> </tspan></text>
<circle cx="863.3" cy="287.00" r="6.4" fill="#fff" stroke="#2a2a2a" stroke-width="0.8"/>
<text x="863.30" y="290.40" font-family="'Liberation Sans', sans-serif" font-size="10" fill="#222" text-anchor="middle" font-weight="normal" font-style="normal" textLength="9.40" lengthAdjust="spacingAndGlyphs" >11</text>
<text x="883.50" y="291.00" font-family="'Liberation Sans', sans-serif" font-size="11" fill="#1c1c1c" xml:space="preserve"><tspan fill="#777">-</tspan><tspan font-family="'Liberation Serif', serif" font-size="11.6" dx="1.5">1296,7 м.кв</tspan></text>
<circle cx="863.3" cy="305.15" r="6.4" fill="#fff" stroke="#2a2a2a" stroke-width="0.8"/>
<text x="863.30" y="308.55" font-family="'Liberation Sans', sans-serif" font-size="10" fill="#222" text-anchor="middle" font-weight="normal" font-style="normal" textLength="9.40" lengthAdjust="spacingAndGlyphs" >12</text>
<text x="882.50" y="309.15" font-family="'Liberation Sans', sans-serif" font-size="11" fill="#1c1c1c" xml:space="preserve">- 506,9м<tspan font-size="6" dy="-3.6">2</tspan><tspan dy="3.6" font-size="1"> </tspan></text>
<circle cx="863.3" cy="323.30" r="6.4" fill="#fff" stroke="#2a2a2a" stroke-width="0.8"/>
<text x="863.30" y="326.70" font-family="'Liberation Sans', sans-serif" font-size="10" fill="#222" text-anchor="middle" font-weight="normal" font-style="normal" textLength="9.40" lengthAdjust="spacingAndGlyphs" >13</text>
<text x="882.50" y="327.30" font-family="'Liberation Sans', sans-serif" font-size="11" fill="#1c1c1c" xml:space="preserve">- 608,8м<tspan font-size="6" dy="-3.6">2</tspan><tspan dy="3.6" font-size="1"> </tspan></text>
<circle cx="863.3" cy="341.45" r="6.4" fill="#fff" stroke="#2a2a2a" stroke-width="0.8"/>
<text x="863.30" y="344.85" font-family="'Liberation Sans', sans-serif" font-size="10" fill="#222" text-anchor="middle" font-weight="normal" font-style="normal" textLength="9.40" lengthAdjust="spacingAndGlyphs" >14</text>
<text x="882.50" y="345.45" font-family="'Liberation Sans', sans-serif" font-size="11" fill="#1c1c1c" xml:space="preserve">-  <tspan font-family="'Liberation Serif', serif" font-size="11.6">719,1 м.кв.</tspan></text>
<circle cx="863.3" cy="359.60" r="6.4" fill="#fff" stroke="#2a2a2a" stroke-width="0.8"/>
<text x="863.30" y="363.00" font-family="'Liberation Sans', sans-serif" font-size="10" fill="#222" text-anchor="middle" font-weight="normal" font-style="normal" textLength="9.40" lengthAdjust="spacingAndGlyphs" >15</text>
<text x="882.50" y="363.60" font-family="'Liberation Sans', sans-serif" font-size="11" fill="#1c1c1c" xml:space="preserve">- 565,1м<tspan font-size="6" dy="-3.6">2</tspan><tspan dy="3.6" font-size="1"> </tspan></text>
<circle cx="863.3" cy="377.75" r="6.4" fill="#fff" stroke="#2a2a2a" stroke-width="0.8"/>
<text x="863.30" y="381.15" font-family="'Liberation Sans', sans-serif" font-size="10" fill="#222" text-anchor="middle" font-weight="normal" font-style="normal" textLength="9.40" lengthAdjust="spacingAndGlyphs" >16</text>
<text x="882.50" y="381.75" font-family="'Liberation Sans', sans-serif" font-size="11" fill="#1c1c1c" xml:space="preserve">- 7 776,0м<tspan font-size="6" dy="-3.6">2</tspan><tspan dy="3.6" font-size="1"> </tspan><tspan dx="1.5">(20 925м</tspan><tspan font-size="6" dy="-3.6">2</tspan><tspan dy="3.6" font-size="1"> </tspan>)</text>
<circle cx="863.3" cy="395.90" r="6.4" fill="#fff" stroke="#2a2a2a" stroke-width="0.8"/>
<text x="863.30" y="399.30" font-family="'Liberation Sans', sans-serif" font-size="10" fill="#222" text-anchor="middle" font-weight="normal" font-style="normal" textLength="9.40" lengthAdjust="spacingAndGlyphs" >17</text>
<text x="882.50" y="399.90" font-family="'Liberation Sans', sans-serif" font-size="11" fill="#1c1c1c" xml:space="preserve">- 105,5м<tspan font-size="6" dy="-3.6">2</tspan><tspan dy="3.6" font-size="1"> </tspan></text>
<circle cx="863.3" cy="414.05" r="6.4" fill="#fff" stroke="#2a2a2a" stroke-width="0.8"/>
<text x="863.30" y="417.45" font-family="'Liberation Sans', sans-serif" font-size="10" fill="#222" text-anchor="middle" font-weight="normal" font-style="normal" textLength="9.40" lengthAdjust="spacingAndGlyphs" >18</text>
<text x="882.50" y="418.05" font-family="'Liberation Sans', sans-serif" font-size="11" fill="#1c1c1c" xml:space="preserve">- 26,4м<tspan font-size="6" dy="-3.6">2</tspan><tspan dy="3.6" font-size="1"> </tspan></text>
<text x="856.7" y="440.4" font-family="'Liberation Serif', serif" font-size="14.8" font-weight="bold" fill="#111" xml:space="preserve">Σ30386,5 <tspan font-family="'Liberation Sans', sans-serif" font-size="13">(47 238,9) м<tspan font-size="7.5" dy="-4.5">2</tspan></tspan></text>
<rect x="850" y="456.4" width="139.4" height="24.1" fill="#e6128a"/>
<text x="858.00" y="474.80" font-family="'Liberation Sans', sans-serif" font-size="13.2" fill="#fdeaf5" text-anchor="start" font-weight="normal" font-style="normal" textLength="122.50" lengthAdjust="spacingAndGlyphs" >ПСК «КОЖУХОВО» 2:</text>
<text x="872.80" y="499.10" font-family="'Liberation Sans', sans-serif" font-size="10.8" fill="#1c1c1c" text-anchor="end" font-weight="normal" font-style="normal" >Стр. 24, 25, 26</text>
<text x="882.2" y="499.10" font-family="'Liberation Sans', sans-serif" font-size="11" fill="#1c1c1c" xml:space="preserve">- 2 869,9 м<tspan font-size="6" dy="-3.6">2</tspan><tspan dy="3.6" font-size="1"> </tspan></text>
<text x="872.80" y="517.20" font-family="'Liberation Sans', sans-serif" font-size="10.8" fill="#1c1c1c" text-anchor="end" font-weight="normal" font-style="normal" >Стр. 17, 18</text>
<text x="882.2" y="517.20" font-family="'Liberation Sans', sans-serif" font-size="11" fill="#1c1c1c" xml:space="preserve">- 827,7м<tspan font-size="6" dy="-3.6">2</tspan><tspan dy="3.6" font-size="1"> </tspan></text>
<text x="872.80" y="535.30" font-family="'Liberation Sans', sans-serif" font-size="10.8" fill="#1c1c1c" text-anchor="end" font-weight="normal" font-style="normal" >Стр. 20</text>
<text x="882.2" y="535.30" font-family="'Liberation Sans', sans-serif" font-size="11" fill="#1c1c1c" xml:space="preserve">- 165,1м<tspan font-size="6" dy="-3.6">2</tspan><tspan dy="3.6" font-size="1"> </tspan></text>
<text x="872.80" y="553.40" font-family="'Liberation Sans', sans-serif" font-size="10.8" fill="#1c1c1c" text-anchor="end" font-weight="normal" font-style="normal" >Стр. 22</text>
<text x="882.2" y="553.40" font-family="'Liberation Sans', sans-serif" font-size="11" fill="#1c1c1c" xml:space="preserve">- 993,0м<tspan font-size="6" dy="-3.6">2</tspan><tspan dy="3.6" font-size="1"> </tspan></text>
<text x="836.05" y="571.50" font-family="'Liberation Sans', sans-serif" font-size="10.8" fill="#1c1c1c" text-anchor="start" font-weight="normal" font-style="normal" >Стр. 1</text>
<text x="882.2" y="571.50" font-family="'Liberation Sans', sans-serif" font-size="11" fill="#1c1c1c" xml:space="preserve">- 615,9м<tspan font-size="6" dy="-3.6">2</tspan><tspan dy="3.6" font-size="1"> </tspan>  (Снос)</text>
<text x="872.80" y="589.60" font-family="'Liberation Sans', sans-serif" font-size="10.8" fill="#1c1c1c" text-anchor="end" font-weight="normal" font-style="normal" >Стр. 23</text>
<text x="882.2" y="589.60" font-family="'Liberation Sans', sans-serif" font-size="11" fill="#1c1c1c" xml:space="preserve">- 67,6м<tspan font-size="6" dy="-3.6">2</tspan><tspan dy="3.6" font-size="1"> </tspan></text>
<text x="872.80" y="607.70" font-family="'Liberation Sans', sans-serif" font-size="10.8" fill="#1c1c1c" text-anchor="end" font-weight="normal" font-style="normal" >Стр. 28</text>
<text x="882.2" y="607.70" font-family="'Liberation Sans', sans-serif" font-size="11" fill="#1c1c1c" xml:space="preserve">- 976,3м<tspan font-size="6" dy="-3.6">2</tspan><tspan dy="3.6" font-size="1"> </tspan>  (Снос)</text>
<text x="872.80" y="625.80" font-family="'Liberation Sans', sans-serif" font-size="10.8" fill="#1c1c1c" text-anchor="end" font-weight="normal" font-style="normal" >Стр. 30</text>
<text x="882.2" y="625.80" font-family="'Liberation Sans', sans-serif" font-size="11" fill="#1c1c1c" xml:space="preserve">- 181,5м<tspan font-size="6" dy="-3.6">2</tspan><tspan dy="3.6" font-size="1"> </tspan>  (Снос)</text>
<text x="872.80" y="643.90" font-family="'Liberation Sans', sans-serif" font-size="10.8" fill="#1c1c1c" text-anchor="end" font-weight="normal" font-style="normal" >Стр. 34</text>
<text x="882.2" y="643.90" font-family="'Liberation Sans', sans-serif" font-size="11" fill="#1c1c1c" xml:space="preserve">- 172,5м<tspan font-size="6" dy="-3.6">2</tspan><tspan dy="3.6" font-size="1"> </tspan>  (Снос)</text>
<text x="872.80" y="662.00" font-family="'Liberation Sans', sans-serif" font-size="10.8" fill="#1c1c1c" text-anchor="end" font-weight="normal" font-style="normal" >Стр. 21</text>
<text x="882.2" y="662.00" font-family="'Liberation Sans', sans-serif" font-size="11" fill="#1c1c1c" xml:space="preserve">- 47,9м<tspan font-size="6" dy="-3.6">2</tspan><tspan dy="3.6" font-size="1"> </tspan></text>
<text x="940.4" y="661.70" font-family="'Liberation Serif', serif" font-size="11.5" fill="#333" xml:space="preserve">Стр.31- 451,7 м.кв. <tspan font-size="12">(Снос)</tspan></text>
<text x="860.5" y="679.5" font-family="'Liberation Serif', serif" font-size="12" fill="#222">Σ</text>
<text x="882.2" y="680" font-family="'Liberation Serif', serif" font-size="14.6" font-weight="bold" fill="#111" xml:space="preserve">-  7369,1 м<tspan font-size="8" dy="-4.5">2</tspan></text>
<text x="858.30" y="707.30" font-family="'Liberation Sans', sans-serif" font-size="12" fill="#1c1c1c" text-anchor="start" font-weight="normal" font-style="normal" textLength="92.00" lengthAdjust="spacingAndGlyphs" >ПЕРСПЕКТИВЫ:</text>
<text x="858.3" y="730.60" font-family="'Liberation Sans', sans-serif" font-size="10.65" fill="#1c1c1c" xml:space="preserve" textLength="213.3" lengthAdjust="spacingAndGlyphs">Пристройка к СГП 16 площадью 4 668 м<tspan font-size="6" dy="-3.6">2</tspan><tspan dy="3.6" font-size="1"> </tspan>.</text>
<text x="858.3" y="745.40" font-family="'Liberation Sans', sans-serif" font-size="10.65" fill="#1c1c1c" xml:space="preserve" textLength="257.0" lengthAdjust="spacingAndGlyphs">Новый склад «КОЖУХОВО - 2» площадью 5 280 м<tspan font-size="6" dy="-3.6">2</tspan><tspan dy="3.6" font-size="1"> </tspan>,</text>
<text x="858.3" y="760.20" font-family="'Liberation Sans', sans-serif" font-size="10.65" fill="#1c1c1c" xml:space="preserve" textLength="190.2" lengthAdjust="spacingAndGlyphs">из них склад - 4 320 м<tspan font-size="6" dy="-3.6">2</tspan><tspan dy="3.6" font-size="1"> </tspan>, офис - 960 м<tspan font-size="6" dy="-3.6">2</tspan><tspan dy="3.6" font-size="1"> </tspan>.</text>
</svg>
</body></html>
